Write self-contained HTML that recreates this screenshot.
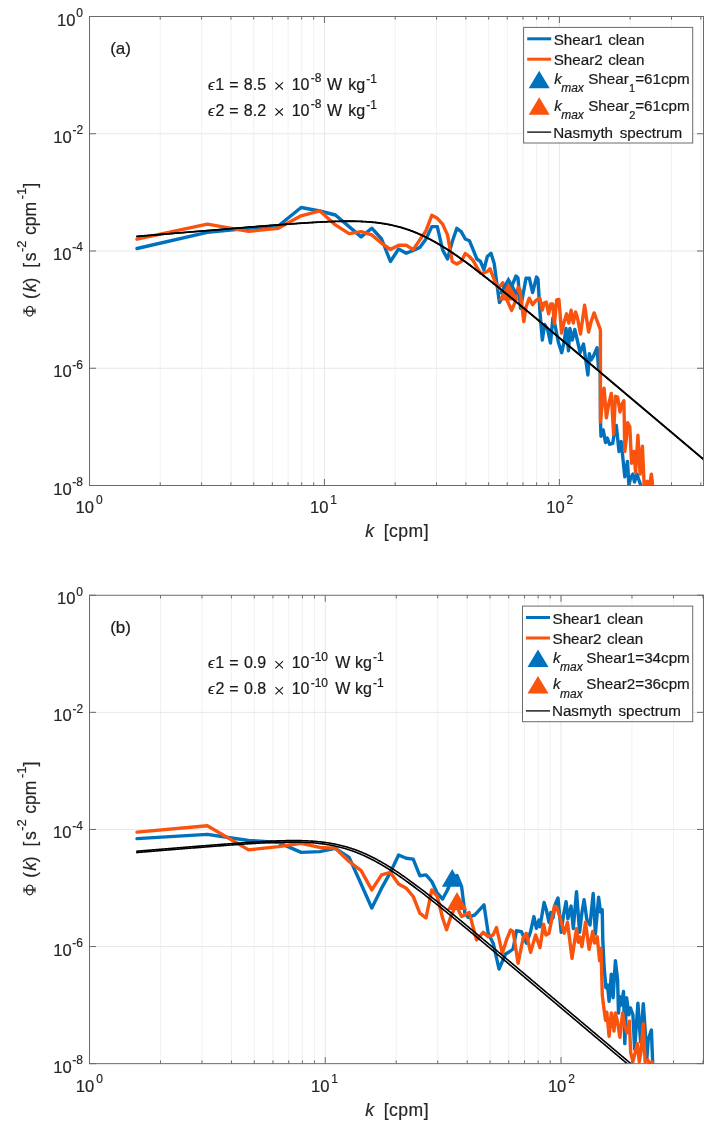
<!DOCTYPE html>
<html><head><meta charset="utf-8"><style>
html,body{margin:0;padding:0;background:#fff;}
svg{display:block;filter:blur(0.3px);}
text{font-family:"Liberation Sans",sans-serif;}
</style></head><body>
<svg width="722" height="1132" viewBox="0 0 722 1132">
<rect width="100%" height="100%" fill="#fff"/>
<clipPath id="c0"><rect x="89.5" y="16.5" width="614.0" height="469.0"/></clipPath>
<line x1="160.23" y1="16.5" x2="160.23" y2="485.5" stroke="#f2f2f2" stroke-width="1"/>
<line x1="201.60" y1="16.5" x2="201.60" y2="485.5" stroke="#f2f2f2" stroke-width="1"/>
<line x1="230.95" y1="16.5" x2="230.95" y2="485.5" stroke="#f2f2f2" stroke-width="1"/>
<line x1="253.72" y1="16.5" x2="253.72" y2="485.5" stroke="#f2f2f2" stroke-width="1"/>
<line x1="272.33" y1="16.5" x2="272.33" y2="485.5" stroke="#f2f2f2" stroke-width="1"/>
<line x1="288.06" y1="16.5" x2="288.06" y2="485.5" stroke="#f2f2f2" stroke-width="1"/>
<line x1="301.68" y1="16.5" x2="301.68" y2="485.5" stroke="#f2f2f2" stroke-width="1"/>
<line x1="313.70" y1="16.5" x2="313.70" y2="485.5" stroke="#f2f2f2" stroke-width="1"/>
<line x1="395.18" y1="16.5" x2="395.18" y2="485.5" stroke="#f2f2f2" stroke-width="1"/>
<line x1="436.55" y1="16.5" x2="436.55" y2="485.5" stroke="#f2f2f2" stroke-width="1"/>
<line x1="465.90" y1="16.5" x2="465.90" y2="485.5" stroke="#f2f2f2" stroke-width="1"/>
<line x1="488.67" y1="16.5" x2="488.67" y2="485.5" stroke="#f2f2f2" stroke-width="1"/>
<line x1="507.28" y1="16.5" x2="507.28" y2="485.5" stroke="#f2f2f2" stroke-width="1"/>
<line x1="523.01" y1="16.5" x2="523.01" y2="485.5" stroke="#f2f2f2" stroke-width="1"/>
<line x1="536.63" y1="16.5" x2="536.63" y2="485.5" stroke="#f2f2f2" stroke-width="1"/>
<line x1="548.65" y1="16.5" x2="548.65" y2="485.5" stroke="#f2f2f2" stroke-width="1"/>
<line x1="630.13" y1="16.5" x2="630.13" y2="485.5" stroke="#f2f2f2" stroke-width="1"/>
<line x1="671.50" y1="16.5" x2="671.50" y2="485.5" stroke="#f2f2f2" stroke-width="1"/>
<line x1="700.85" y1="16.5" x2="700.85" y2="485.5" stroke="#f2f2f2" stroke-width="1"/>
<line x1="324.45" y1="16.5" x2="324.45" y2="485.5" stroke="#e8e8e8" stroke-width="1"/>
<line x1="559.40" y1="16.5" x2="559.40" y2="485.5" stroke="#e8e8e8" stroke-width="1"/>
<line x1="89.5" y1="133.75" x2="703.5" y2="133.75" stroke="#e8e8e8" stroke-width="1"/>
<line x1="89.5" y1="251.00" x2="703.5" y2="251.00" stroke="#e8e8e8" stroke-width="1"/>
<line x1="89.5" y1="368.25" x2="703.5" y2="368.25" stroke="#e8e8e8" stroke-width="1"/>
<g clip-path="url(#c0)" fill="none" stroke-linejoin="round" stroke-linecap="round">
<path d="M137.0,248.5 L207.3,232.4 L248.6,228.2 L278.3,226.0 L301.1,207.5 L319.7,211.0 L335.4,215.0 L349.1,226.6 L361.1,236.9 L371.8,228.2 L381.6,239.0 L390.4,261.5 L398.6,249.0 L406.2,253.2 L413.2,250.5 L419.8,247.4 L426.0,239.0 L431.8,226.6 L437.3,226.6 L442.6,249.9 L447.5,259.0 L452.3,241.5 L456.8,228.3 L461.2,231.6 L465.3,239.0 L469.4,240.7 L473.2,249.9 L476.9,259.0 L480.5,261.5 L483.9,269.8 L487.3,256.5 L491.0,253.3 L494.2,263.5 L499.4,302.6 L505.0,293.0 L511.0,288.0 L516.0,276.0 L518.0,278.0 L520.5,308.2 L526.0,278.2 L529.3,278.2 L532.6,292.6 L536.5,277.1 L538.0,279.0 L539.8,310.0 L542.3,340.1 L544.7,324.5 L547.6,329.4 L550.5,343.0 L552.9,317.8 L555.0,325.0 L558.3,342.0 L561.7,352.7 L564.1,342.0 L566.0,328.4 L568.5,350.7 L569.9,328.4 L572.3,340.1 L574.8,329.4 L577.7,342.0 L580.1,352.7 L583.5,344.0 L586.4,364.3 L587.9,375.0 L589.3,353.6 L591.0,360.0 L593.2,356.6 L597.1,347.8 L598.5,368.2 L600.2,368.0 L600.5,421.8 L601.0,436.2 L603.2,429.9 L605.5,442.5 L607.3,438.0 L609.5,444.3 L612.7,443.4 L614.0,435.3 L616.3,425.4 L619.0,451.5 L621.2,441.6 L624.8,476.8 L627.5,461.4 L628.9,486.0 L630.5,478.0 L632.9,474.1 L634.5,482.0 L637.0,474.1 L638.5,479.0 L640.1,483.1 L641.0,487.0" stroke="#0072BD" stroke-width="3.4"/>
<path d="M137.0,239.2 L207.3,224.1 L248.6,231.3 L278.3,228.2 L301.1,215.8 L319.7,210.8 L335.4,224.9 L349.1,233.6 L361.1,231.6 L371.8,234.9 L381.6,243.2 L390.4,249.5 L398.6,245.2 L406.2,245.2 L413.2,249.6 L419.8,239.9 L426.0,230.7 L431.8,215.3 L437.3,218.3 L442.6,224.1 L447.5,234.9 L452.3,261.5 L456.8,264.0 L461.2,261.5 L465.3,253.5 L469.4,256.5 L473.2,260.7 L476.9,267.3 L480.5,273.1 L483.9,273.0 L487.3,271.5 L490.0,268.8 L495.0,281.6 L498.3,288.2 L502.7,282.7 L507.0,300.0 L511.6,310.4 L514.9,302.6 L518.2,287.1 L520.0,290.0 L523.8,321.5 L526.0,307.0 L529.3,298.2 L532.6,304.8 L536.0,300.4 L539.3,298.2 L540.0,298.5 L542.3,310.2 L544.1,303.0 L546.3,302.1 L548.6,313.8 L550.8,303.9 L552.6,303.9 L554.4,324.0 L556.7,299.9 L558.9,299.4 L561.6,333.0 L563.9,322.8 L566.6,313.8 L568.8,323.0 L571.1,310.2 L573.3,323.0 L575.6,312.0 L577.5,318.0 L580.5,334.0 L584.6,305.3 L588.6,332.0 L591.0,322.0 L594.1,312.9 L596.0,318.0 L599.5,327.3 L600.4,330.0 L600.5,422.0 L602.5,400.0 L604.1,388.1 L606.4,417.8 L608.5,405.0 L611.3,393.5 L613.6,434.0 L615.4,396.2 L617.6,397.1 L620.0,412.0 L621.5,405.0 L623.9,400.7 L624.8,451.5 L626.2,440.0 L627.5,422.7 L629.8,426.8 L631.6,463.2 L633.8,451.5 L635.6,472.3 L637.9,435.3 L640.1,474.1 L642.4,446.1 L644.2,486.0 L647.4,481.3 L649.5,486.0 L651.4,474.1 L652.8,487.0" stroke="#F9530E" stroke-width="3.4"/>
<path d="M508.4,276.6 L518.7,294.5 L498.1,294.5 Z" fill="#0072BD" stroke="none"/>
<path d="M508.4,282.5 L518.7,300.4 L498.1,300.4 Z" fill="#F9530E" stroke="none"/>
<path d="M136.83,236.33 L137.84,236.25 L138.86,236.16 L139.87,236.08 L140.89,236.00 L141.91,235.91 L142.92,235.83 L143.94,235.74 L144.95,235.66 L145.97,235.57 L146.98,235.49 L148.00,235.40 L149.01,235.32 L150.03,235.24 L151.05,235.15 L152.06,235.07 L153.08,234.98 L154.09,234.90 L155.11,234.81 L156.12,234.73 L157.14,234.65 L158.15,234.56 L159.17,234.48 L160.19,234.39 L161.20,234.31 L162.22,234.22 L163.23,234.14 L164.25,234.06 L165.26,233.97 L166.28,233.89 L167.29,233.80 L168.31,233.72 L169.33,233.63 L170.34,233.55 L171.36,233.46 L172.37,233.38 L173.39,233.30 L174.40,233.21 L175.42,233.13 L176.43,233.04 L177.45,232.96 L178.46,232.87 L179.48,232.79 L180.50,232.71 L181.51,232.62 L182.53,232.54 L183.54,232.45 L184.56,232.37 L185.57,232.29 L186.59,232.20 L187.60,232.12 L188.62,232.03 L189.64,231.95 L190.65,231.86 L191.67,231.78 L192.68,231.70 L193.70,231.61 L194.71,231.53 L195.73,231.44 L196.74,231.36 L197.76,231.28 L198.78,231.19 L199.79,231.11 L200.81,231.02 L201.82,230.94 L202.84,230.86 L203.85,230.77 L204.87,230.69 L205.88,230.60 L206.90,230.52 L207.91,230.44 L208.93,230.35 L209.95,230.27 L210.96,230.18 L211.98,230.10 L212.99,230.02 L214.01,229.93 L215.02,229.85 L216.04,229.77 L217.05,229.68 L218.07,229.60 L219.09,229.51 L220.10,229.43 L221.12,229.35 L222.13,229.26 L223.15,229.18 L224.16,229.10 L225.18,229.01 L226.19,228.93 L227.21,228.85 L228.23,228.76 L229.24,228.68 L230.26,228.60 L231.27,228.51 L232.29,228.43 L233.30,228.35 L234.32,228.26 L235.33,228.18 L236.35,228.10 L237.37,228.02 L238.38,227.93 L239.40,227.85 L240.41,227.77 L241.43,227.68 L242.44,227.60 L243.46,227.52 L244.47,227.44 L245.49,227.35 L246.50,227.27 L247.52,227.19 L248.54,227.11 L249.55,227.03 L250.57,226.94 L251.58,226.86 L252.60,226.78 L253.61,226.70 L254.63,226.62 L255.64,226.54 L256.66,226.46 L257.68,226.37 L258.69,226.29 L259.71,226.21 L260.72,226.13 L261.74,226.05 L262.75,225.97 L263.77,225.89 L264.78,225.81 L265.80,225.73 L266.82,225.65 L267.83,225.57 L268.85,225.49 L269.86,225.41 L270.88,225.33 L271.89,225.25 L272.91,225.18 L273.92,225.10 L274.94,225.02 L275.95,224.94 L276.97,224.86 L277.99,224.79 L279.00,224.71 L280.02,224.63 L281.03,224.55 L282.05,224.48 L283.06,224.40 L284.08,224.33 L285.09,224.25 L286.11,224.17 L287.13,224.10 L288.14,224.03 L289.16,223.95 L290.17,223.88 L291.19,223.80 L292.20,223.73 L293.22,223.66 L294.23,223.59 L295.25,223.52 L296.27,223.44 L297.28,223.37 L298.30,223.30 L299.31,223.23 L300.33,223.16 L301.34,223.10 L302.36,223.03 L303.37,222.96 L304.39,222.89 L305.41,222.83 L306.42,222.76 L307.44,222.70 L308.45,222.64 L309.47,222.57 L310.48,222.51 L311.50,222.45 L312.51,222.39 L313.53,222.33 L314.54,222.27 L315.56,222.21 L316.58,222.15 L317.59,222.10 L318.61,222.04 L319.62,221.99 L320.64,221.94 L321.65,221.89 L322.67,221.84 L323.68,221.79 L324.70,221.74 L325.72,221.69 L326.73,221.65 L327.75,221.60 L328.76,221.56 L329.78,221.52 L330.79,221.48 L331.81,221.44 L332.82,221.41 L333.84,221.37 L334.86,221.34 L335.87,221.31 L336.89,221.28 L337.90,221.26 L338.92,221.23 L339.93,221.21 L340.95,221.19 L341.96,221.17 L342.98,221.15 L343.99,221.14 L345.01,221.13 L346.03,221.12 L347.04,221.12 L348.06,221.11 L349.07,221.11 L350.09,221.12 L351.10,221.12 L352.12,221.13 L353.13,221.14 L354.15,221.16 L355.17,221.18 L356.18,221.20 L357.20,221.22 L358.21,221.25 L359.23,221.28 L360.24,221.32 L361.26,221.36 L362.27,221.41 L363.29,221.46 L364.31,221.51 L365.32,221.57 L366.34,221.63 L367.35,221.69 L368.37,221.77 L369.38,221.84 L370.40,221.92 L371.41,222.01 L372.43,222.10 L373.45,222.20 L374.46,222.30 L375.48,222.41 L376.49,222.52 L377.51,222.64 L378.52,222.77 L379.54,222.90 L380.55,223.04 L381.57,223.18 L382.58,223.33 L383.60,223.49 L384.62,223.65 L385.63,223.82 L386.65,224.00 L387.66,224.19 L388.68,224.38 L389.69,224.58 L390.71,224.78 L391.72,225.00 L392.74,225.22 L393.76,225.45 L394.77,225.69 L395.79,225.93 L396.80,226.18 L397.82,226.45 L398.83,226.71 L399.85,226.99 L400.86,227.28 L401.88,227.57 L402.90,227.87 L403.91,228.18 L404.93,228.50 L405.94,228.83 L406.96,229.17 L407.97,229.51 L408.99,229.87 L410.00,230.23 L411.02,230.60 L412.04,230.98 L413.05,231.37 L414.07,231.76 L415.08,232.17 L416.10,232.58 L417.11,233.01 L418.13,233.44 L419.14,233.88 L420.16,234.33 L421.17,234.79 L422.19,235.25 L423.21,235.73 L424.22,236.21 L425.24,236.70 L426.25,237.20 L427.27,237.71 L428.28,238.22 L429.30,238.74 L430.31,239.28 L431.33,239.81 L432.35,240.36 L433.36,240.92 L434.38,241.48 L435.39,242.05 L436.41,242.62 L437.42,243.21 L438.44,243.80 L439.45,244.40 L440.47,245.00 L441.49,245.61 L442.50,246.23 L443.52,246.86 L444.53,247.49 L445.55,248.13 L446.56,248.77 L447.58,249.42 L448.59,250.08 L449.61,250.74 L450.62,251.40 L451.64,252.08 L452.66,252.75 L453.67,253.44 L454.69,254.13 L455.70,254.82 L456.72,255.52 L457.73,256.22 L458.75,256.93 L459.76,257.64 L460.78,258.36 L461.80,259.08 L462.81,259.81 L463.83,260.54 L464.84,261.27 L465.86,262.01 L466.87,262.75 L467.89,263.49 L468.90,264.24 L469.92,264.99 L470.94,265.75 L471.95,266.51 L472.97,267.27 L473.98,268.04 L475.00,268.80 L476.01,269.57 L477.03,270.35 L478.04,271.13 L479.06,271.90 L480.08,272.69 L481.09,273.47 L482.11,274.26 L483.12,275.05 L484.14,275.84 L485.15,276.63 L486.17,277.43 L487.18,278.23 L488.20,279.03 L489.21,279.83 L490.23,280.63 L491.25,281.44 L492.26,282.24 L493.28,283.05 L494.29,283.86 L495.31,284.68 L496.32,285.49 L497.34,286.30 L498.35,287.12 L499.37,287.94 L500.39,288.76 L501.40,289.58 L502.42,290.40 L503.43,291.22 L504.45,292.05 L505.46,292.87 L506.48,293.70 L507.49,294.53 L508.51,295.36 L509.53,296.19 L510.54,297.02 L511.56,297.85 L512.57,298.68 L513.59,299.52 L514.60,300.35 L515.62,301.18 L516.63,302.02 L517.65,302.86 L518.66,303.69 L519.68,304.53 L520.70,305.37 L521.71,306.21 L522.73,307.05 L523.74,307.89 L524.76,308.73 L525.77,309.57 L526.79,310.41 L527.80,311.26 L528.82,312.10 L529.84,312.94 L530.85,313.79 L531.87,314.63 L532.88,315.48 L533.90,316.32 L534.91,317.17 L535.93,318.01 L536.94,318.86 L537.96,319.71 L538.98,320.56 L539.99,321.40 L541.01,322.25 L542.02,323.10 L543.04,323.95 L544.05,324.80 L545.07,325.65 L546.08,326.50 L547.10,327.34 L548.12,328.19 L549.13,329.04 L550.15,329.90 L551.16,330.75 L552.18,331.60 L553.19,332.45 L554.21,333.30 L555.22,334.15 L556.24,335.00 L557.25,335.85 L558.27,336.71 L559.29,337.56 L560.30,338.41 L561.32,339.26 L562.33,340.12 L563.35,340.97 L564.36,341.82 L565.38,342.67 L566.39,343.53 L567.41,344.38 L568.43,345.23 L569.44,346.09 L570.46,346.94 L571.47,347.80 L572.49,348.65 L573.50,349.50 L574.52,350.36 L575.53,351.21 L576.55,352.07 L577.57,352.92 L578.58,353.78 L579.60,354.63 L580.61,355.48 L581.63,356.34 L582.64,357.19 L583.66,358.05 L584.67,358.90 L585.69,359.76 L586.70,360.61 L587.72,361.47 L588.74,362.32 L589.75,363.18 L590.77,364.03 L591.78,364.89 L592.80,365.74 L593.81,366.60 L594.83,367.46 L595.84,368.31 L596.86,369.17 L597.88,370.02 L598.89,370.88 L599.91,371.73 L600.92,372.59 L601.94,373.45 L602.95,374.30 L603.97,375.16 L604.98,376.01 L606.00,376.87 L607.02,377.72 L608.03,378.58 L609.05,379.44 L610.06,380.29 L611.08,381.15 L612.09,382.00 L613.11,382.86 L614.12,383.72 L615.14,384.57 L616.16,385.43 L617.17,386.29 L618.19,387.14 L619.20,388.00 L620.22,388.85 L621.23,389.71 L622.25,390.57 L623.26,391.42 L624.28,392.28 L625.29,393.14 L626.31,393.99 L627.33,394.85 L628.34,395.70 L629.36,396.56 L630.37,397.42 L631.39,398.27 L632.40,399.13 L633.42,399.99 L634.43,400.84 L635.45,401.70 L636.47,402.56 L637.48,403.41 L638.50,404.27 L639.51,405.12 L640.53,405.98 L641.54,406.84 L642.56,407.69 L643.57,408.55 L644.59,409.41 L645.61,410.26 L646.62,411.12 L647.64,411.98 L648.65,412.83 L649.67,413.69 L650.68,414.55 L651.70,415.40 L652.71,416.26 L653.73,417.12 L654.74,417.97 L655.76,418.83 L656.78,419.69 L657.79,420.54 L658.81,421.40 L659.82,422.26 L660.84,423.11 L661.85,423.97 L662.87,424.83 L663.88,425.68 L664.90,426.54 L665.92,427.40 L666.93,428.25 L667.95,429.11 L668.96,429.96 L669.98,430.82 L670.99,431.68 L672.01,432.53 L673.02,433.39 L674.04,434.25 L675.06,435.10 L676.07,435.96 L677.09,436.82 L678.10,437.67 L679.12,438.53 L680.13,439.39 L681.15,440.24 L682.16,441.10 L683.18,441.96 L684.20,442.81 L685.21,443.67 L686.23,444.53 L687.24,445.38 L688.26,446.24 L689.27,447.10 L690.29,447.95 L691.30,448.81 L692.32,449.67 L693.33,450.52 L694.35,451.38 L695.37,452.24 L696.38,453.09 L697.40,453.95 L698.41,454.81 L699.43,455.66 L700.44,456.52 L701.46,457.38 L702.47,458.23 L703.49,459.09 L704.51,459.95 L705.52,460.81 L706.54,461.66 L707.55,462.52" stroke="#000" stroke-width="1.6"/>
<path d="M136.83,236.53 L137.84,236.44 L138.86,236.36 L139.87,236.28 L140.89,236.19 L141.91,236.11 L142.92,236.02 L143.94,235.94 L144.95,235.85 L145.97,235.77 L146.98,235.68 L148.00,235.60 L149.01,235.52 L150.03,235.43 L151.05,235.35 L152.06,235.26 L153.08,235.18 L154.09,235.09 L155.11,235.01 L156.12,234.93 L157.14,234.84 L158.15,234.76 L159.17,234.67 L160.19,234.59 L161.20,234.50 L162.22,234.42 L163.23,234.33 L164.25,234.25 L165.26,234.17 L166.28,234.08 L167.29,234.00 L168.31,233.91 L169.33,233.83 L170.34,233.74 L171.36,233.66 L172.37,233.58 L173.39,233.49 L174.40,233.41 L175.42,233.32 L176.43,233.24 L177.45,233.15 L178.46,233.07 L179.48,232.99 L180.50,232.90 L181.51,232.82 L182.53,232.73 L183.54,232.65 L184.56,232.56 L185.57,232.48 L186.59,232.40 L187.60,232.31 L188.62,232.23 L189.64,232.14 L190.65,232.06 L191.67,231.98 L192.68,231.89 L193.70,231.81 L194.71,231.72 L195.73,231.64 L196.74,231.56 L197.76,231.47 L198.78,231.39 L199.79,231.30 L200.81,231.22 L201.82,231.14 L202.84,231.05 L203.85,230.97 L204.87,230.88 L205.88,230.80 L206.90,230.72 L207.91,230.63 L208.93,230.55 L209.95,230.46 L210.96,230.38 L211.98,230.30 L212.99,230.21 L214.01,230.13 L215.02,230.04 L216.04,229.96 L217.05,229.88 L218.07,229.79 L219.09,229.71 L220.10,229.63 L221.12,229.54 L222.13,229.46 L223.15,229.38 L224.16,229.29 L225.18,229.21 L226.19,229.13 L227.21,229.04 L228.23,228.96 L229.24,228.88 L230.26,228.79 L231.27,228.71 L232.29,228.63 L233.30,228.54 L234.32,228.46 L235.33,228.38 L236.35,228.29 L237.37,228.21 L238.38,228.13 L239.40,228.05 L240.41,227.96 L241.43,227.88 L242.44,227.80 L243.46,227.72 L244.47,227.63 L245.49,227.55 L246.50,227.47 L247.52,227.39 L248.54,227.30 L249.55,227.22 L250.57,227.14 L251.58,227.06 L252.60,226.98 L253.61,226.90 L254.63,226.81 L255.64,226.73 L256.66,226.65 L257.68,226.57 L258.69,226.49 L259.71,226.41 L260.72,226.33 L261.74,226.25 L262.75,226.17 L263.77,226.09 L264.78,226.01 L265.80,225.93 L266.82,225.85 L267.83,225.77 L268.85,225.69 L269.86,225.61 L270.88,225.53 L271.89,225.45 L272.91,225.37 L273.92,225.29 L274.94,225.22 L275.95,225.14 L276.97,225.06 L277.99,224.98 L279.00,224.91 L280.02,224.83 L281.03,224.75 L282.05,224.68 L283.06,224.60 L284.08,224.52 L285.09,224.45 L286.11,224.37 L287.13,224.30 L288.14,224.22 L289.16,224.15 L290.17,224.08 L291.19,224.00 L292.20,223.93 L293.22,223.86 L294.23,223.79 L295.25,223.71 L296.27,223.64 L297.28,223.57 L298.30,223.50 L299.31,223.43 L300.33,223.36 L301.34,223.30 L302.36,223.23 L303.37,223.16 L304.39,223.10 L305.41,223.03 L306.42,222.96 L307.44,222.90 L308.45,222.84 L309.47,222.77 L310.48,222.71 L311.50,222.65 L312.51,222.59 L313.53,222.53 L314.54,222.47 L315.56,222.41 L316.58,222.36 L317.59,222.30 L318.61,222.25 L319.62,222.19 L320.64,222.14 L321.65,222.09 L322.67,222.04 L323.68,221.99 L324.70,221.94 L325.72,221.90 L326.73,221.85 L327.75,221.81 L328.76,221.77 L329.78,221.73 L330.79,221.69 L331.81,221.65 L332.82,221.62 L333.84,221.58 L334.86,221.55 L335.87,221.52 L336.89,221.49 L337.90,221.47 L338.92,221.44 L339.93,221.42 L340.95,221.40 L341.96,221.39 L342.98,221.37 L343.99,221.36 L345.01,221.35 L346.03,221.34 L347.04,221.33 L348.06,221.33 L349.07,221.33 L350.09,221.34 L351.10,221.34 L352.12,221.35 L353.13,221.37 L354.15,221.38 L355.17,221.40 L356.18,221.42 L357.20,221.45 L358.21,221.48 L359.23,221.51 L360.24,221.55 L361.26,221.59 L362.27,221.64 L363.29,221.69 L364.31,221.74 L365.32,221.80 L366.34,221.87 L367.35,221.93 L368.37,222.01 L369.38,222.09 L370.40,222.17 L371.41,222.26 L372.43,222.35 L373.45,222.45 L374.46,222.55 L375.48,222.66 L376.49,222.78 L377.51,222.90 L378.52,223.03 L379.54,223.16 L380.55,223.30 L381.57,223.44 L382.58,223.60 L383.60,223.76 L384.62,223.92 L385.63,224.09 L386.65,224.27 L387.66,224.46 L388.68,224.66 L389.69,224.86 L390.71,225.07 L391.72,225.28 L392.74,225.51 L393.76,225.74 L394.77,225.98 L395.79,226.22 L396.80,226.48 L397.82,226.74 L398.83,227.01 L399.85,227.29 L400.86,227.58 L401.88,227.88 L402.90,228.18 L403.91,228.50 L404.93,228.82 L405.94,229.15 L406.96,229.49 L407.97,229.83 L408.99,230.19 L410.00,230.55 L411.02,230.93 L412.04,231.31 L413.05,231.70 L414.07,232.10 L415.08,232.51 L416.10,232.93 L417.11,233.35 L418.13,233.79 L419.14,234.23 L420.16,234.68 L421.17,235.14 L422.19,235.61 L423.21,236.08 L424.22,236.57 L425.24,237.06 L426.25,237.56 L427.27,238.07 L428.28,238.59 L429.30,239.12 L430.31,239.65 L431.33,240.19 L432.35,240.74 L433.36,241.30 L434.38,241.86 L435.39,242.43 L436.41,243.01 L437.42,243.60 L438.44,244.19 L439.45,244.79 L440.47,245.40 L441.49,246.01 L442.50,246.63 L443.52,247.26 L444.53,247.89 L445.55,248.53 L446.56,249.18 L447.58,249.83 L448.59,250.49 L449.61,251.15 L450.62,251.82 L451.64,252.49 L452.66,253.17 L453.67,253.86 L454.69,254.55 L455.70,255.24 L456.72,255.94 L457.73,256.65 L458.75,257.35 L459.76,258.07 L460.78,258.79 L461.80,259.51 L462.81,260.24 L463.83,260.97 L464.84,261.70 L465.86,262.44 L466.87,263.18 L467.89,263.93 L468.90,264.68 L469.92,265.43 L470.94,266.19 L471.95,266.95 L472.97,267.71 L473.98,268.48 L475.00,269.25 L476.01,270.02 L477.03,270.79 L478.04,271.57 L479.06,272.35 L480.08,273.13 L481.09,273.92 L482.11,274.71 L483.12,275.50 L484.14,276.29 L485.15,277.08 L486.17,277.88 L487.18,278.68 L488.20,279.48 L489.21,280.28 L490.23,281.08 L491.25,281.89 L492.26,282.70 L493.28,283.51 L494.29,284.32 L495.31,285.13 L496.32,285.94 L497.34,286.76 L498.35,287.58 L499.37,288.40 L500.39,289.22 L501.40,290.04 L502.42,290.86 L503.43,291.68 L504.45,292.51 L505.46,293.33 L506.48,294.16 L507.49,294.99 L508.51,295.82 L509.53,296.65 L510.54,297.48 L511.56,298.31 L512.57,299.14 L513.59,299.98 L514.60,300.81 L515.62,301.65 L516.63,302.48 L517.65,303.32 L518.66,304.16 L519.68,304.99 L520.70,305.83 L521.71,306.67 L522.73,307.51 L523.74,308.35 L524.76,309.19 L525.77,310.04 L526.79,310.88 L527.80,311.72 L528.82,312.56 L529.84,313.41 L530.85,314.25 L531.87,315.10 L532.88,315.94 L533.90,316.79 L534.91,317.63 L535.93,318.48 L536.94,319.33 L537.96,320.17 L538.98,321.02 L539.99,321.87 L541.01,322.72 L542.02,323.56 L543.04,324.41 L544.05,325.26 L545.07,326.11 L546.08,326.96 L547.10,327.81 L548.12,328.66 L549.13,329.51 L550.15,330.36 L551.16,331.21 L552.18,332.06 L553.19,332.91 L554.21,333.77 L555.22,334.62 L556.24,335.47 L557.25,336.32 L558.27,337.17 L559.29,338.02 L560.30,338.88 L561.32,339.73 L562.33,340.58 L563.35,341.44 L564.36,342.29 L565.38,343.14 L566.39,343.99 L567.41,344.85 L568.43,345.70 L569.44,346.55 L570.46,347.41 L571.47,348.26 L572.49,349.12 L573.50,349.97 L574.52,350.82 L575.53,351.68 L576.55,352.53 L577.57,353.39 L578.58,354.24 L579.60,355.10 L580.61,355.95 L581.63,356.81 L582.64,357.66 L583.66,358.52 L584.67,359.37 L585.69,360.23 L586.70,361.08 L587.72,361.94 L588.74,362.79 L589.75,363.65 L590.77,364.50 L591.78,365.36 L592.80,366.21 L593.81,367.07 L594.83,367.92 L595.84,368.78 L596.86,369.63 L597.88,370.49 L598.89,371.35 L599.91,372.20 L600.92,373.06 L601.94,373.91 L602.95,374.77 L603.97,375.62 L604.98,376.48 L606.00,377.34 L607.02,378.19 L608.03,379.05 L609.05,379.90 L610.06,380.76 L611.08,381.62 L612.09,382.47 L613.11,383.33 L614.12,384.18 L615.14,385.04 L616.16,385.90 L617.17,386.75 L618.19,387.61 L619.20,388.46 L620.22,389.32 L621.23,390.18 L622.25,391.03 L623.26,391.89 L624.28,392.75 L625.29,393.60 L626.31,394.46 L627.33,395.32 L628.34,396.17 L629.36,397.03 L630.37,397.88 L631.39,398.74 L632.40,399.60 L633.42,400.45 L634.43,401.31 L635.45,402.17 L636.47,403.02 L637.48,403.88 L638.50,404.74 L639.51,405.59 L640.53,406.45 L641.54,407.31 L642.56,408.16 L643.57,409.02 L644.59,409.87 L645.61,410.73 L646.62,411.59 L647.64,412.44 L648.65,413.30 L649.67,414.16 L650.68,415.01 L651.70,415.87 L652.71,416.73 L653.73,417.58 L654.74,418.44 L655.76,419.30 L656.78,420.15 L657.79,421.01 L658.81,421.87 L659.82,422.72 L660.84,423.58 L661.85,424.44 L662.87,425.29 L663.88,426.15 L664.90,427.01 L665.92,427.86 L666.93,428.72 L667.95,429.58 L668.96,430.43 L669.98,431.29 L670.99,432.15 L672.01,433.00 L673.02,433.86 L674.04,434.72 L675.06,435.57 L676.07,436.43 L677.09,437.29 L678.10,438.14 L679.12,439.00 L680.13,439.86 L681.15,440.71 L682.16,441.57 L683.18,442.43 L684.20,443.28 L685.21,444.14 L686.23,445.00 L687.24,445.85 L688.26,446.71 L689.27,447.57 L690.29,448.42 L691.30,449.28 L692.32,450.14 L693.33,450.99 L694.35,451.85 L695.37,452.71 L696.38,453.56 L697.40,454.42 L698.41,455.28 L699.43,456.13 L700.44,456.99 L701.46,457.85 L702.47,458.70 L703.49,459.56 L704.51,460.42 L705.52,461.27 L706.54,462.13 L707.55,462.99" stroke="#000" stroke-width="1.6"/>
</g>
<rect x="89.5" y="16.5" width="614.0" height="469.0" fill="none" stroke="#6b6b6b" stroke-width="1"/>
<line x1="89.50" y1="485.5" x2="89.50" y2="479.0" stroke="#6b6b6b" stroke-width="1"/>
<line x1="89.50" y1="16.5" x2="89.50" y2="23.0" stroke="#6b6b6b" stroke-width="1"/>
<line x1="160.23" y1="485.5" x2="160.23" y2="482.3" stroke="#6b6b6b" stroke-width="1"/>
<line x1="160.23" y1="16.5" x2="160.23" y2="19.7" stroke="#6b6b6b" stroke-width="1"/>
<line x1="201.60" y1="485.5" x2="201.60" y2="482.3" stroke="#6b6b6b" stroke-width="1"/>
<line x1="201.60" y1="16.5" x2="201.60" y2="19.7" stroke="#6b6b6b" stroke-width="1"/>
<line x1="230.95" y1="485.5" x2="230.95" y2="482.3" stroke="#6b6b6b" stroke-width="1"/>
<line x1="230.95" y1="16.5" x2="230.95" y2="19.7" stroke="#6b6b6b" stroke-width="1"/>
<line x1="253.72" y1="485.5" x2="253.72" y2="482.3" stroke="#6b6b6b" stroke-width="1"/>
<line x1="253.72" y1="16.5" x2="253.72" y2="19.7" stroke="#6b6b6b" stroke-width="1"/>
<line x1="272.33" y1="485.5" x2="272.33" y2="482.3" stroke="#6b6b6b" stroke-width="1"/>
<line x1="272.33" y1="16.5" x2="272.33" y2="19.7" stroke="#6b6b6b" stroke-width="1"/>
<line x1="288.06" y1="485.5" x2="288.06" y2="482.3" stroke="#6b6b6b" stroke-width="1"/>
<line x1="288.06" y1="16.5" x2="288.06" y2="19.7" stroke="#6b6b6b" stroke-width="1"/>
<line x1="301.68" y1="485.5" x2="301.68" y2="482.3" stroke="#6b6b6b" stroke-width="1"/>
<line x1="301.68" y1="16.5" x2="301.68" y2="19.7" stroke="#6b6b6b" stroke-width="1"/>
<line x1="313.70" y1="485.5" x2="313.70" y2="482.3" stroke="#6b6b6b" stroke-width="1"/>
<line x1="313.70" y1="16.5" x2="313.70" y2="19.7" stroke="#6b6b6b" stroke-width="1"/>
<line x1="324.45" y1="485.5" x2="324.45" y2="479.0" stroke="#6b6b6b" stroke-width="1"/>
<line x1="324.45" y1="16.5" x2="324.45" y2="23.0" stroke="#6b6b6b" stroke-width="1"/>
<line x1="395.18" y1="485.5" x2="395.18" y2="482.3" stroke="#6b6b6b" stroke-width="1"/>
<line x1="395.18" y1="16.5" x2="395.18" y2="19.7" stroke="#6b6b6b" stroke-width="1"/>
<line x1="436.55" y1="485.5" x2="436.55" y2="482.3" stroke="#6b6b6b" stroke-width="1"/>
<line x1="436.55" y1="16.5" x2="436.55" y2="19.7" stroke="#6b6b6b" stroke-width="1"/>
<line x1="465.90" y1="485.5" x2="465.90" y2="482.3" stroke="#6b6b6b" stroke-width="1"/>
<line x1="465.90" y1="16.5" x2="465.90" y2="19.7" stroke="#6b6b6b" stroke-width="1"/>
<line x1="488.67" y1="485.5" x2="488.67" y2="482.3" stroke="#6b6b6b" stroke-width="1"/>
<line x1="488.67" y1="16.5" x2="488.67" y2="19.7" stroke="#6b6b6b" stroke-width="1"/>
<line x1="507.28" y1="485.5" x2="507.28" y2="482.3" stroke="#6b6b6b" stroke-width="1"/>
<line x1="507.28" y1="16.5" x2="507.28" y2="19.7" stroke="#6b6b6b" stroke-width="1"/>
<line x1="523.01" y1="485.5" x2="523.01" y2="482.3" stroke="#6b6b6b" stroke-width="1"/>
<line x1="523.01" y1="16.5" x2="523.01" y2="19.7" stroke="#6b6b6b" stroke-width="1"/>
<line x1="536.63" y1="485.5" x2="536.63" y2="482.3" stroke="#6b6b6b" stroke-width="1"/>
<line x1="536.63" y1="16.5" x2="536.63" y2="19.7" stroke="#6b6b6b" stroke-width="1"/>
<line x1="548.65" y1="485.5" x2="548.65" y2="482.3" stroke="#6b6b6b" stroke-width="1"/>
<line x1="548.65" y1="16.5" x2="548.65" y2="19.7" stroke="#6b6b6b" stroke-width="1"/>
<line x1="559.40" y1="485.5" x2="559.40" y2="479.0" stroke="#6b6b6b" stroke-width="1"/>
<line x1="559.40" y1="16.5" x2="559.40" y2="23.0" stroke="#6b6b6b" stroke-width="1"/>
<line x1="630.13" y1="485.5" x2="630.13" y2="482.3" stroke="#6b6b6b" stroke-width="1"/>
<line x1="630.13" y1="16.5" x2="630.13" y2="19.7" stroke="#6b6b6b" stroke-width="1"/>
<line x1="671.50" y1="485.5" x2="671.50" y2="482.3" stroke="#6b6b6b" stroke-width="1"/>
<line x1="671.50" y1="16.5" x2="671.50" y2="19.7" stroke="#6b6b6b" stroke-width="1"/>
<line x1="700.85" y1="485.5" x2="700.85" y2="482.3" stroke="#6b6b6b" stroke-width="1"/>
<line x1="700.85" y1="16.5" x2="700.85" y2="19.7" stroke="#6b6b6b" stroke-width="1"/>
<line x1="89.5" y1="16.50" x2="96.0" y2="16.50" stroke="#6b6b6b" stroke-width="1"/>
<line x1="703.5" y1="16.50" x2="697.0" y2="16.50" stroke="#6b6b6b" stroke-width="1"/>
<line x1="89.5" y1="133.75" x2="96.0" y2="133.75" stroke="#6b6b6b" stroke-width="1"/>
<line x1="703.5" y1="133.75" x2="697.0" y2="133.75" stroke="#6b6b6b" stroke-width="1"/>
<line x1="89.5" y1="251.00" x2="96.0" y2="251.00" stroke="#6b6b6b" stroke-width="1"/>
<line x1="703.5" y1="251.00" x2="697.0" y2="251.00" stroke="#6b6b6b" stroke-width="1"/>
<line x1="89.5" y1="368.25" x2="96.0" y2="368.25" stroke="#6b6b6b" stroke-width="1"/>
<line x1="703.5" y1="368.25" x2="697.0" y2="368.25" stroke="#6b6b6b" stroke-width="1"/>
<line x1="89.5" y1="485.50" x2="96.0" y2="485.50" stroke="#6b6b6b" stroke-width="1"/>
<line x1="703.5" y1="485.50" x2="697.0" y2="485.50" stroke="#6b6b6b" stroke-width="1"/>
<text x="75.54" y="512.60" font-family="Liberation Sans" font-size="16.6" fill="#262626" stroke="#262626" stroke-width="0.2">10</text>
<text x="96.09" y="503.60" font-family="Liberation Sans" font-size="12" fill="#262626" stroke="#262626" stroke-width="0.2">0</text>
<text x="310.07" y="512.60" font-family="Liberation Sans" font-size="16.6" fill="#262626" stroke="#262626" stroke-width="0.2">10</text>
<text x="330.17" y="503.60" font-family="Liberation Sans" font-size="12" fill="#262626" stroke="#262626" stroke-width="0.2">1</text>
<text x="546.18" y="512.60" font-family="Liberation Sans" font-size="16.6" fill="#262626" stroke="#262626" stroke-width="0.2">10</text>
<text x="566.59" y="503.60" font-family="Liberation Sans" font-size="12" fill="#262626" stroke="#262626" stroke-width="0.2">2</text>
<text x="76.29" y="16.90" font-family="Liberation Sans" font-size="12" fill="#262626" stroke="#262626" stroke-width="0.2">0</text>
<text x="57.05" y="25.50" font-family="Liberation Sans" font-size="16.6" fill="#262626" stroke="#262626" stroke-width="0.2">10</text>
<text x="72.43" y="134.15" font-family="Liberation Sans" font-size="12" fill="#262626" stroke="#262626" stroke-width="0.2">-2</text>
<text x="53.25" y="142.75" font-family="Liberation Sans" font-size="16.6" fill="#262626" stroke="#262626" stroke-width="0.2">10</text>
<text x="72.18" y="251.40" font-family="Liberation Sans" font-size="12" fill="#262626" stroke="#262626" stroke-width="0.2">-4</text>
<text x="53.00" y="260.00" font-family="Liberation Sans" font-size="16.6" fill="#262626" stroke="#262626" stroke-width="0.2">10</text>
<text x="72.36" y="368.65" font-family="Liberation Sans" font-size="12" fill="#262626" stroke="#262626" stroke-width="0.2">-6</text>
<text x="53.17" y="377.25" font-family="Liberation Sans" font-size="16.6" fill="#262626" stroke="#262626" stroke-width="0.2">10</text>
<text x="72.35" y="485.90" font-family="Liberation Sans" font-size="12" fill="#262626" stroke="#262626" stroke-width="0.2">-8</text>
<text x="53.17" y="494.50" font-family="Liberation Sans" font-size="16.6" fill="#262626" stroke="#262626" stroke-width="0.2">10</text>
<text x="365.21" y="536.60" font-family="Liberation Sans" font-size="17.6" font-style="italic" fill="#262626" stroke="#262626" stroke-width="0.2">k</text>
<text x="383.65" y="536.60" font-family="Liberation Sans" font-size="17.6" letter-spacing="0.5" fill="#262626" stroke="#262626" stroke-width="0.2">[cpm]</text>
<g transform="translate(35.6,0) rotate(-90)">
<text x="-298.89" y="0.00" font-family="Liberation Sans" font-size="17.6" fill="#262626" stroke="#262626" stroke-width="0.2">(</text>
<text x="-291.89" y="0.00" font-family="Liberation Sans" font-size="17.6" font-style="italic" fill="#262626" stroke="#262626" stroke-width="0.2">k</text>
<text x="-283.47" y="0.00" font-family="Liberation Sans" font-size="17.6" fill="#262626" stroke="#262626" stroke-width="0.2">)</text>
<text x="-267.75" y="0.00" font-family="Liberation Sans" font-size="17.6" fill="#262626" stroke="#262626" stroke-width="0.2">[</text>
<text x="-261.29" y="0.00" font-family="Liberation Sans" font-size="17.6" fill="#262626" stroke="#262626" stroke-width="0.2">s</text>
<text x="-251.98" y="-9.30" font-family="Liberation Sans" font-size="13" fill="#262626" stroke="#262626" stroke-width="0.2">-2</text>
<text x="-235.05" y="0.00" font-family="Liberation Sans" font-size="17.6" fill="#262626" stroke="#262626" stroke-width="0.2">cpm</text>
<text x="-199.28" y="-9.30" font-family="Liberation Sans" font-size="13" fill="#262626" stroke="#262626" stroke-width="0.2">-1</text>
<text x="-187.64" y="0.00" font-family="Liberation Sans" font-size="17.6" fill="#262626" stroke="#262626" stroke-width="0.2">]</text>
</g>
<g fill="none" stroke="#262626"><ellipse cx="29.75" cy="311.20" rx="3.3" ry="4.9" stroke-width="1.35"/><line x1="23.6" y1="311.20" x2="35.4" y2="311.20" stroke-width="1.5"/><line x1="24.0" y1="308.60" x2="24.0" y2="313.80" stroke-width="1.0"/><line x1="35.0" y1="308.60" x2="35.0" y2="313.80" stroke-width="1.0"/></g>
<rect x="523.6" y="27.4" width="169.1" height="115.6" fill="#fff" stroke="#6b6b6b" stroke-width="1"/>
<line x1="527.2" y1="38.8" x2="551.2" y2="38.8" stroke="#0072BD" stroke-width="3"/>
<line x1="527.2" y1="59.2" x2="551.2" y2="59.2" stroke="#F9530E" stroke-width="3"/>
<path d="M539.2,70.8 L549.7,88.3 L528.7,88.3 Z" fill="#0072BD"/>
<path d="M539.2,97.3 L549.7,114.8 L528.7,114.8 Z" fill="#F9530E"/>
<line x1="527.2" y1="132.1" x2="551.2" y2="132.1" stroke="#000" stroke-width="1.3"/>
<text x="553.71" y="44.80" font-family="Liberation Sans" font-size="15.2" fill="#1a1a1a" stroke="#1a1a1a" stroke-width="0.2">Shear1</text>
<text x="608.15" y="44.80" font-family="Liberation Sans" font-size="15.2" fill="#1a1a1a" stroke="#1a1a1a" stroke-width="0.2">clean</text>
<text x="553.71" y="65.20" font-family="Liberation Sans" font-size="15.2" fill="#1a1a1a" stroke="#1a1a1a" stroke-width="0.2">Shear2</text>
<text x="608.15" y="65.20" font-family="Liberation Sans" font-size="15.2" fill="#1a1a1a" stroke="#1a1a1a" stroke-width="0.2">clean</text>
<text x="554.15" y="84.10" font-family="Liberation Sans" font-size="15.2" font-style="italic" fill="#1a1a1a" stroke="#1a1a1a" stroke-width="0.2">k</text>
<text x="561.20" y="92.40" font-family="Liberation Sans" font-size="12" font-style="italic" fill="#1a1a1a" stroke="#1a1a1a" stroke-width="0.2">max</text>
<text x="588.21" y="84.10" font-family="Liberation Sans" font-size="15.2" fill="#1a1a1a" stroke="#1a1a1a" stroke-width="0.2">Shear</text>
<text x="629.06" y="92.30" font-family="Liberation Sans" font-size="11" fill="#1a1a1a" stroke="#1a1a1a" stroke-width="0.2">1</text>
<text x="635.16" y="84.10" font-family="Liberation Sans" font-size="15.2" fill="#1a1a1a" stroke="#1a1a1a" stroke-width="0.2">=61cpm</text>
<text x="554.15" y="110.70" font-family="Liberation Sans" font-size="15.2" font-style="italic" fill="#1a1a1a" stroke="#1a1a1a" stroke-width="0.2">k</text>
<text x="561.20" y="119.00" font-family="Liberation Sans" font-size="12" font-style="italic" fill="#1a1a1a" stroke="#1a1a1a" stroke-width="0.2">max</text>
<text x="588.21" y="110.70" font-family="Liberation Sans" font-size="15.2" fill="#1a1a1a" stroke="#1a1a1a" stroke-width="0.2">Shear</text>
<text x="629.35" y="118.90" font-family="Liberation Sans" font-size="11" fill="#1a1a1a" stroke="#1a1a1a" stroke-width="0.2">2</text>
<text x="635.16" y="110.70" font-family="Liberation Sans" font-size="15.2" fill="#1a1a1a" stroke="#1a1a1a" stroke-width="0.2">=61cpm</text>
<text x="553.15" y="137.70" font-family="Liberation Sans" font-size="15.2" fill="#1a1a1a" stroke="#1a1a1a" stroke-width="0.2">Nasmyth</text>
<text x="619.68" y="137.70" font-family="Liberation Sans" font-size="15.2" fill="#1a1a1a" stroke="#1a1a1a" stroke-width="0.2">spectrum</text>
<text x="110.15" y="53.90" font-family="Liberation Sans" font-size="17.0" fill="#1a1a1a" stroke="#1a1a1a" stroke-width="0.2">(a)</text>
<text x="207.95" y="89.70" font-family="Liberation Serif" font-size="15" font-style="italic" fill="#1a1a1a" stroke="#1a1a1a" stroke-width="0.2">ϵ</text>
<text x="215.18" y="89.70" font-family="Liberation Sans" font-size="16" fill="#1a1a1a" stroke="#1a1a1a" stroke-width="0.2">1</text>
<text x="229.22" y="89.70" font-family="Liberation Sans" font-size="16" fill="#1a1a1a" stroke="#1a1a1a" stroke-width="0.2">=</text>
<text x="243.80" y="89.70" font-family="Liberation Sans" font-size="16" fill="#1a1a1a" stroke="#1a1a1a" stroke-width="0.2">8.5</text>
<path d="M275.4,82.3 L283.0,89.5 M275.4,89.5 L283.0,82.3" stroke="#1a1a1a" stroke-width="1.1" fill="none"/>
<text x="291.68" y="89.70" font-family="Liberation Sans" font-size="16" fill="#1a1a1a" stroke="#1a1a1a" stroke-width="0.2">10</text>
<text x="310.67" y="82.10" font-family="Liberation Sans" font-size="12" fill="#1a1a1a" stroke="#1a1a1a" stroke-width="0.2">-8</text>
<text x="326.93" y="89.70" font-family="Liberation Sans" font-size="16" fill="#1a1a1a" stroke="#1a1a1a" stroke-width="0.2">W</text>
<text x="348.32" y="89.70" font-family="Liberation Sans" font-size="16" fill="#1a1a1a" stroke="#1a1a1a" stroke-width="0.2">kg</text>
<text x="366.37" y="82.70" font-family="Liberation Sans" font-size="12" fill="#1a1a1a" stroke="#1a1a1a" stroke-width="0.2">-1</text>
<text x="207.95" y="115.70" font-family="Liberation Serif" font-size="15" font-style="italic" fill="#1a1a1a" stroke="#1a1a1a" stroke-width="0.2">ϵ</text>
<text x="215.60" y="115.70" font-family="Liberation Sans" font-size="16" fill="#1a1a1a" stroke="#1a1a1a" stroke-width="0.2">2</text>
<text x="229.22" y="115.70" font-family="Liberation Sans" font-size="16" fill="#1a1a1a" stroke="#1a1a1a" stroke-width="0.2">=</text>
<text x="243.80" y="115.70" font-family="Liberation Sans" font-size="16" fill="#1a1a1a" stroke="#1a1a1a" stroke-width="0.2">8.2</text>
<path d="M275.4,108.3 L283.0,115.5 M275.4,115.5 L283.0,108.3" stroke="#1a1a1a" stroke-width="1.1" fill="none"/>
<text x="291.68" y="115.70" font-family="Liberation Sans" font-size="16" fill="#1a1a1a" stroke="#1a1a1a" stroke-width="0.2">10</text>
<text x="310.67" y="108.10" font-family="Liberation Sans" font-size="12" fill="#1a1a1a" stroke="#1a1a1a" stroke-width="0.2">-8</text>
<text x="326.93" y="115.70" font-family="Liberation Sans" font-size="16" fill="#1a1a1a" stroke="#1a1a1a" stroke-width="0.2">W</text>
<text x="348.32" y="115.70" font-family="Liberation Sans" font-size="16" fill="#1a1a1a" stroke="#1a1a1a" stroke-width="0.2">kg</text>
<text x="366.37" y="108.70" font-family="Liberation Sans" font-size="12" fill="#1a1a1a" stroke="#1a1a1a" stroke-width="0.2">-1</text>
<clipPath id="c1"><rect x="89.5" y="595.25" width="614.0" height="468.4"/></clipPath>
<line x1="160.47" y1="595.25" x2="160.47" y2="1063.65" stroke="#f2f2f2" stroke-width="1"/>
<line x1="201.98" y1="595.25" x2="201.98" y2="1063.65" stroke="#f2f2f2" stroke-width="1"/>
<line x1="231.44" y1="595.25" x2="231.44" y2="1063.65" stroke="#f2f2f2" stroke-width="1"/>
<line x1="254.28" y1="595.25" x2="254.28" y2="1063.65" stroke="#f2f2f2" stroke-width="1"/>
<line x1="272.95" y1="595.25" x2="272.95" y2="1063.65" stroke="#f2f2f2" stroke-width="1"/>
<line x1="288.73" y1="595.25" x2="288.73" y2="1063.65" stroke="#f2f2f2" stroke-width="1"/>
<line x1="302.40" y1="595.25" x2="302.40" y2="1063.65" stroke="#f2f2f2" stroke-width="1"/>
<line x1="314.46" y1="595.25" x2="314.46" y2="1063.65" stroke="#f2f2f2" stroke-width="1"/>
<line x1="396.22" y1="595.25" x2="396.22" y2="1063.65" stroke="#f2f2f2" stroke-width="1"/>
<line x1="437.73" y1="595.25" x2="437.73" y2="1063.65" stroke="#f2f2f2" stroke-width="1"/>
<line x1="467.19" y1="595.25" x2="467.19" y2="1063.65" stroke="#f2f2f2" stroke-width="1"/>
<line x1="490.03" y1="595.25" x2="490.03" y2="1063.65" stroke="#f2f2f2" stroke-width="1"/>
<line x1="508.70" y1="595.25" x2="508.70" y2="1063.65" stroke="#f2f2f2" stroke-width="1"/>
<line x1="524.48" y1="595.25" x2="524.48" y2="1063.65" stroke="#f2f2f2" stroke-width="1"/>
<line x1="538.15" y1="595.25" x2="538.15" y2="1063.65" stroke="#f2f2f2" stroke-width="1"/>
<line x1="550.21" y1="595.25" x2="550.21" y2="1063.65" stroke="#f2f2f2" stroke-width="1"/>
<line x1="631.97" y1="595.25" x2="631.97" y2="1063.65" stroke="#f2f2f2" stroke-width="1"/>
<line x1="673.48" y1="595.25" x2="673.48" y2="1063.65" stroke="#f2f2f2" stroke-width="1"/>
<line x1="702.94" y1="595.25" x2="702.94" y2="1063.65" stroke="#f2f2f2" stroke-width="1"/>
<line x1="325.25" y1="595.25" x2="325.25" y2="1063.65" stroke="#e8e8e8" stroke-width="1"/>
<line x1="561.00" y1="595.25" x2="561.00" y2="1063.65" stroke="#e8e8e8" stroke-width="1"/>
<line x1="89.5" y1="712.35" x2="703.5" y2="712.35" stroke="#e8e8e8" stroke-width="1"/>
<line x1="89.5" y1="829.45" x2="703.5" y2="829.45" stroke="#e8e8e8" stroke-width="1"/>
<line x1="89.5" y1="946.55" x2="703.5" y2="946.55" stroke="#e8e8e8" stroke-width="1"/>
<g clip-path="url(#c1)" fill="none" stroke-linejoin="round" stroke-linecap="round">
<path d="M137.0,838.6 L207.3,834.4 L248.6,840.5 L278.3,842.4 L301.1,852.4 L319.7,851.6 L335.4,848.3 L349.1,857.4 L361.1,884.0 L371.8,908.1 L381.6,888.2 L390.4,872.4 L398.6,855.0 L406.2,858.3 L413.2,859.1 L419.8,875.7 L426.0,874.9 L431.8,881.5 L437.3,893.2 L442.6,899.0 L447.5,890.0 L452.3,878.0 L457.0,875.5 L461.6,886.6 L464.9,913.2 L468.3,917.3 L474.9,914.8 L484.0,904.9 L488.2,933.3 L493.2,943.2 L499.0,969.0 L505.6,954.0 L509.0,952.0 L513.1,949.0 L516.5,930.8 L521.4,931.6 L526.4,943.2 L530.6,931.6 L533.9,916.6 L536.4,928.3 L539.0,920.0 L540.0,926.8 L544.1,902.5 L546.3,909.7 L549.0,922.3 L550.8,912.4 L553.0,918.0 L555.0,905.0 L558.0,898.0 L561.2,932.3 L563.5,915.0 L566.1,901.6 L567.9,918.7 L571.1,906.1 L573.3,928.6 L576.5,891.7 L579.6,932.3 L582.0,912.0 L584.1,899.8 L586.8,919.6 L590.0,925.0 L593.2,893.5 L595.4,934.0 L598.6,897.1 L600.5,912.0 L602.2,909.7 L602.8,940.0 L604.1,967.0 L605.9,987.7 L607.5,985.0 L609.1,1001.3 L611.3,974.2 L613.1,997.7 L615.4,960.7 L617.6,979.6 L618.5,1013.0 L619.9,996.8 L621.5,1005.0 L623.5,991.4 L624.8,1043.6 L626.6,997.7 L628.9,1014.8 L630.5,1008.0 L632.9,1014.8 L634.7,1049.1 L637.9,1003.1 L640.6,1041.8 L643.3,1003.6 L644.8,1025.0 L646.9,1058.1 L648.3,1039.1 L651.4,1030.1 L652.8,1066.0" stroke="#0072BD" stroke-width="3.4"/>
<path d="M137.0,832.1 L207.3,825.8 L248.6,849.9 L278.3,846.6 L301.1,843.3 L319.7,847.4 L335.4,848.3 L349.1,861.5 L361.1,870.7 L371.8,889.9 L381.6,874.9 L390.4,872.4 L398.6,884.0 L406.2,888.2 L413.2,896.5 L419.8,913.1 L426.0,918.0 L431.8,889.9 L437.3,896.5 L442.6,918.0 L446.6,929.8 L450.8,916.6 L456.0,905.0 L461.6,916.5 L469.1,912.4 L476.6,939.9 L483.2,932.4 L488.2,936.6 L493.2,934.9 L496.5,927.5 L502.3,953.2 L506.5,939.9 L510.6,930.0 L513.1,931.6 L518.1,963.2 L523.1,938.3 L526.4,933.3 L530.6,952.4 L535.6,934.9 L540.0,947.6 L543.6,924.1 L545.9,935.0 L549.0,933.2 L554.4,906.1 L556.7,907.0 L560.7,919.6 L564.3,933.2 L567.5,922.3 L572.0,958.4 L576.5,928.6 L578.3,942.2 L580.0,937.0 L581.9,946.7 L585.5,922.3 L589.1,949.4 L592.7,931.4 L594.5,943.1 L597.2,936.8 L599.6,960.7 L601.0,948.1 L602.3,995.0 L603.2,1003.1 L605.5,1020.2 L606.8,1012.1 L609.1,1036.4 L611.3,1013.0 L614.0,1031.0 L615.4,1013.0 L617.5,1022.0 L619.9,1037.3 L622.6,1013.0 L624.5,1025.0 L627.1,1032.8 L629.3,1021.1 L630.7,1052.7 L632.9,1061.7 L635.6,1050.9 L637.4,1043.6 L639.2,1061.7 L641.0,1052.0 L643.3,1023.8 L645.1,1061.7 L647.8,1059.9 L649.5,1064.0 L651.9,1061.7 L652.5,1066.0" stroke="#F9530E" stroke-width="3.4"/>
<path d="M452.2,868.9 L462.5,886.8 L441.9,886.8 Z" fill="#0072BD" stroke="none"/>
<path d="M457.0,891.9 L467.3,909.9 L446.7,909.9 Z" fill="#F9530E" stroke="none"/>
<path d="M136.83,851.25 L137.84,851.16 L138.86,851.08 L139.87,850.99 L140.89,850.91 L141.91,850.83 L142.92,850.74 L143.94,850.66 L144.95,850.57 L145.97,850.49 L146.98,850.41 L148.00,850.32 L149.01,850.24 L150.03,850.15 L151.05,850.07 L152.06,849.99 L153.08,849.90 L154.09,849.82 L155.11,849.73 L156.12,849.65 L157.14,849.57 L158.15,849.48 L159.17,849.40 L160.19,849.31 L161.20,849.23 L162.22,849.15 L163.23,849.06 L164.25,848.98 L165.26,848.90 L166.28,848.81 L167.29,848.73 L168.31,848.65 L169.33,848.56 L170.34,848.48 L171.36,848.40 L172.37,848.31 L173.39,848.23 L174.40,848.15 L175.42,848.06 L176.43,847.98 L177.45,847.90 L178.46,847.81 L179.48,847.73 L180.50,847.65 L181.51,847.56 L182.53,847.48 L183.54,847.40 L184.56,847.32 L185.57,847.23 L186.59,847.15 L187.60,847.07 L188.62,846.99 L189.64,846.90 L190.65,846.82 L191.67,846.74 L192.68,846.66 L193.70,846.57 L194.71,846.49 L195.73,846.41 L196.74,846.33 L197.76,846.25 L198.78,846.17 L199.79,846.08 L200.81,846.00 L201.82,845.92 L202.84,845.84 L203.85,845.76 L204.87,845.68 L205.88,845.60 L206.90,845.52 L207.91,845.44 L208.93,845.36 L209.95,845.28 L210.96,845.20 L211.98,845.12 L212.99,845.04 L214.01,844.96 L215.02,844.88 L216.04,844.80 L217.05,844.72 L218.07,844.64 L219.09,844.56 L220.10,844.48 L221.12,844.41 L222.13,844.33 L223.15,844.25 L224.16,844.17 L225.18,844.10 L226.19,844.02 L227.21,843.94 L228.23,843.87 L229.24,843.79 L230.26,843.72 L231.27,843.64 L232.29,843.57 L233.30,843.49 L234.32,843.42 L235.33,843.34 L236.35,843.27 L237.37,843.20 L238.38,843.13 L239.40,843.05 L240.41,842.98 L241.43,842.91 L242.44,842.84 L243.46,842.77 L244.47,842.70 L245.49,842.63 L246.50,842.56 L247.52,842.50 L248.54,842.43 L249.55,842.36 L250.57,842.30 L251.58,842.23 L252.60,842.17 L253.61,842.10 L254.63,842.04 L255.64,841.98 L256.66,841.92 L257.68,841.86 L258.69,841.80 L259.71,841.74 L260.72,841.68 L261.74,841.62 L262.75,841.57 L263.77,841.51 L264.78,841.46 L265.80,841.41 L266.82,841.35 L267.83,841.30 L268.85,841.25 L269.86,841.21 L270.88,841.16 L271.89,841.12 L272.91,841.07 L273.92,841.03 L274.94,840.99 L275.95,840.95 L276.97,840.91 L277.99,840.88 L279.00,840.84 L280.02,840.81 L281.03,840.78 L282.05,840.75 L283.06,840.73 L284.08,840.70 L285.09,840.68 L286.11,840.66 L287.13,840.64 L288.14,840.63 L289.16,840.61 L290.17,840.60 L291.19,840.59 L292.20,840.59 L293.22,840.59 L294.23,840.59 L295.25,840.59 L296.27,840.59 L297.28,840.60 L298.30,840.62 L299.31,840.63 L300.33,840.65 L301.34,840.67 L302.36,840.70 L303.37,840.73 L304.39,840.76 L305.41,840.80 L306.42,840.84 L307.44,840.88 L308.45,840.93 L309.47,840.99 L310.48,841.04 L311.50,841.11 L312.51,841.17 L313.53,841.24 L314.54,841.32 L315.56,841.40 L316.58,841.49 L317.59,841.58 L318.61,841.68 L319.62,841.78 L320.64,841.89 L321.65,842.00 L322.67,842.12 L323.68,842.25 L324.70,842.38 L325.72,842.52 L326.73,842.67 L327.75,842.82 L328.76,842.97 L329.78,843.14 L330.79,843.31 L331.81,843.49 L332.82,843.67 L333.84,843.87 L334.86,844.07 L335.87,844.27 L336.89,844.49 L337.90,844.71 L338.92,844.94 L339.93,845.18 L340.95,845.42 L341.96,845.68 L342.98,845.94 L343.99,846.21 L345.01,846.49 L346.03,846.77 L347.04,847.07 L348.06,847.37 L349.07,847.68 L350.09,848.00 L351.10,848.33 L352.12,848.67 L353.13,849.01 L354.15,849.37 L355.17,849.73 L356.18,850.10 L357.20,850.48 L358.21,850.87 L359.23,851.27 L360.24,851.67 L361.26,852.09 L362.27,852.51 L363.29,852.95 L364.31,853.39 L365.32,853.84 L366.34,854.29 L367.35,854.76 L368.37,855.24 L369.38,855.72 L370.40,856.21 L371.41,856.71 L372.43,857.22 L373.45,857.73 L374.46,858.26 L375.48,858.79 L376.49,859.33 L377.51,859.88 L378.52,860.43 L379.54,861.00 L380.55,861.57 L381.57,862.14 L382.58,862.73 L383.60,863.32 L384.62,863.92 L385.63,864.52 L386.65,865.14 L387.66,865.75 L388.68,866.38 L389.69,867.01 L390.71,867.65 L391.72,868.29 L392.74,868.94 L393.76,869.60 L394.77,870.26 L395.79,870.93 L396.80,871.60 L397.82,872.28 L398.83,872.96 L399.85,873.65 L400.86,874.35 L401.88,875.05 L402.90,875.75 L403.91,876.46 L404.93,877.17 L405.94,877.89 L406.96,878.61 L407.97,879.34 L408.99,880.07 L410.00,880.80 L411.02,881.54 L412.04,882.28 L413.05,883.02 L414.07,883.77 L415.08,884.53 L416.10,885.28 L417.11,886.04 L418.13,886.80 L419.14,887.57 L420.16,888.34 L421.17,889.11 L422.19,889.88 L423.21,890.66 L424.22,891.44 L425.24,892.22 L426.25,893.01 L427.27,893.79 L428.28,894.58 L429.30,895.37 L430.31,896.17 L431.33,896.96 L432.35,897.76 L433.36,898.56 L434.38,899.36 L435.39,900.17 L436.41,900.97 L437.42,901.78 L438.44,902.59 L439.45,903.40 L440.47,904.21 L441.49,905.03 L442.50,905.84 L443.52,906.66 L444.53,907.48 L445.55,908.30 L446.56,909.12 L447.58,909.94 L448.59,910.76 L449.61,911.59 L450.62,912.41 L451.64,913.24 L452.66,914.07 L453.67,914.90 L454.69,915.73 L455.70,916.56 L456.72,917.39 L457.73,918.22 L458.75,919.05 L459.76,919.89 L460.78,920.72 L461.80,921.56 L462.81,922.40 L463.83,923.23 L464.84,924.07 L465.86,924.91 L466.87,925.75 L467.89,926.59 L468.90,927.43 L469.92,928.27 L470.94,929.11 L471.95,929.95 L472.97,930.80 L473.98,931.64 L475.00,932.48 L476.01,933.33 L477.03,934.17 L478.04,935.02 L479.06,935.86 L480.08,936.71 L481.09,937.55 L482.11,938.40 L483.12,939.25 L484.14,940.09 L485.15,940.94 L486.17,941.79 L487.18,942.64 L488.20,943.49 L489.21,944.34 L490.23,945.19 L491.25,946.03 L492.26,946.88 L493.28,947.73 L494.29,948.58 L495.31,949.44 L496.32,950.29 L497.34,951.14 L498.35,951.99 L499.37,952.84 L500.39,953.69 L501.40,954.54 L502.42,955.39 L503.43,956.25 L504.45,957.10 L505.46,957.95 L506.48,958.80 L507.49,959.66 L508.51,960.51 L509.53,961.36 L510.54,962.21 L511.56,963.07 L512.57,963.92 L513.59,964.77 L514.60,965.63 L515.62,966.48 L516.63,967.34 L517.65,968.19 L518.66,969.04 L519.68,969.90 L520.70,970.75 L521.71,971.61 L522.73,972.46 L523.74,973.32 L524.76,974.17 L525.77,975.02 L526.79,975.88 L527.80,976.73 L528.82,977.59 L529.84,978.44 L530.85,979.30 L531.87,980.15 L532.88,981.01 L533.90,981.86 L534.91,982.72 L535.93,983.57 L536.94,984.43 L537.96,985.29 L538.98,986.14 L539.99,987.00 L541.01,987.85 L542.02,988.71 L543.04,989.56 L544.05,990.42 L545.07,991.27 L546.08,992.13 L547.10,992.99 L548.12,993.84 L549.13,994.70 L550.15,995.55 L551.16,996.41 L552.18,997.26 L553.19,998.12 L554.21,998.98 L555.22,999.83 L556.24,1000.69 L557.25,1001.54 L558.27,1002.40 L559.29,1003.26 L560.30,1004.11 L561.32,1004.97 L562.33,1005.83 L563.35,1006.68 L564.36,1007.54 L565.38,1008.39 L566.39,1009.25 L567.41,1010.11 L568.43,1010.96 L569.44,1011.82 L570.46,1012.68 L571.47,1013.53 L572.49,1014.39 L573.50,1015.24 L574.52,1016.10 L575.53,1016.96 L576.55,1017.81 L577.57,1018.67 L578.58,1019.53 L579.60,1020.38 L580.61,1021.24 L581.63,1022.10 L582.64,1022.95 L583.66,1023.81 L584.67,1024.66 L585.69,1025.52 L586.70,1026.38 L587.72,1027.23 L588.74,1028.09 L589.75,1028.95 L590.77,1029.80 L591.78,1030.66 L592.80,1031.52 L593.81,1032.37 L594.83,1033.23 L595.84,1034.09 L596.86,1034.94 L597.88,1035.80 L598.89,1036.66 L599.91,1037.51 L600.92,1038.37 L601.94,1039.23 L602.95,1040.08 L603.97,1040.94 L604.98,1041.80 L606.00,1042.65 L607.02,1043.51 L608.03,1044.37 L609.05,1045.22 L610.06,1046.08 L611.08,1046.94 L612.09,1047.79 L613.11,1048.65 L614.12,1049.51 L615.14,1050.36 L616.16,1051.22 L617.17,1052.08 L618.19,1052.93 L619.20,1053.79 L620.22,1054.65 L621.23,1055.50 L622.25,1056.36 L623.26,1057.22 L624.28,1058.07 L625.29,1058.93 L626.31,1059.79 L627.33,1060.64 L628.34,1061.50 L629.36,1062.36 L630.37,1063.21 L631.39,1064.07 L632.40,1064.93 L633.42,1065.78 L634.43,1066.64 L635.45,1067.50 L636.47,1068.35 L637.48,1069.21 L638.50,1070.07 L639.51,1070.92 L640.53,1071.78 L641.54,1072.64 L642.56,1073.49 L643.57,1074.35 L644.59,1075.21 L645.61,1076.06 L646.62,1076.92 L647.64,1077.78 L648.65,1078.63 L649.67,1079.49 L650.68,1080.35 L651.70,1081.20 L652.71,1082.06 L653.73,1082.92 L654.74,1083.77 L655.76,1084.63 L656.78,1085.49 L657.79,1086.34 L658.81,1087.20 L659.82,1088.06 L660.84,1088.91 L661.85,1089.77 L662.87,1090.63 L663.88,1091.48 L664.90,1092.34 L665.92,1093.20 L666.93,1094.05 L667.95,1094.91 L668.96,1095.77 L669.98,1096.62 L670.99,1097.48 L672.01,1098.34 L673.02,1099.19 L674.04,1100.05 L675.06,1100.91 L676.07,1101.76 L677.09,1102.62 L678.10,1103.48 L679.12,1104.33 L680.13,1105.19 L681.15,1106.05 L682.16,1106.90 L683.18,1107.76 L684.20,1108.62 L685.21,1109.47 L686.23,1110.33 L687.24,1111.19 L688.26,1112.04 L689.27,1112.90 L690.29,1113.76 L691.30,1114.61 L692.32,1115.47 L693.33,1116.33 L694.35,1117.18 L695.37,1118.04 L696.38,1118.90 L697.40,1119.75 L698.41,1120.61 L699.43,1121.47 L700.44,1122.32 L701.46,1123.18 L702.47,1124.04 L703.49,1124.89 L704.51,1125.75 L705.52,1126.61 L706.54,1127.46 L707.55,1128.32" stroke="#000" stroke-width="1.6"/>
<path d="M136.83,852.58 L137.84,852.49 L138.86,852.41 L139.87,852.32 L140.89,852.24 L141.91,852.15 L142.92,852.07 L143.94,851.99 L144.95,851.90 L145.97,851.82 L146.98,851.73 L148.00,851.65 L149.01,851.57 L150.03,851.48 L151.05,851.40 L152.06,851.32 L153.08,851.23 L154.09,851.15 L155.11,851.06 L156.12,850.98 L157.14,850.90 L158.15,850.81 L159.17,850.73 L160.19,850.65 L161.20,850.56 L162.22,850.48 L163.23,850.39 L164.25,850.31 L165.26,850.23 L166.28,850.14 L167.29,850.06 L168.31,849.98 L169.33,849.89 L170.34,849.81 L171.36,849.73 L172.37,849.64 L173.39,849.56 L174.40,849.48 L175.42,849.39 L176.43,849.31 L177.45,849.23 L178.46,849.14 L179.48,849.06 L180.50,848.98 L181.51,848.90 L182.53,848.81 L183.54,848.73 L184.56,848.65 L185.57,848.57 L186.59,848.48 L187.60,848.40 L188.62,848.32 L189.64,848.24 L190.65,848.15 L191.67,848.07 L192.68,847.99 L193.70,847.91 L194.71,847.83 L195.73,847.74 L196.74,847.66 L197.76,847.58 L198.78,847.50 L199.79,847.42 L200.81,847.34 L201.82,847.26 L202.84,847.18 L203.85,847.10 L204.87,847.01 L205.88,846.93 L206.90,846.85 L207.91,846.77 L208.93,846.69 L209.95,846.61 L210.96,846.53 L211.98,846.45 L212.99,846.38 L214.01,846.30 L215.02,846.22 L216.04,846.14 L217.05,846.06 L218.07,845.98 L219.09,845.90 L220.10,845.83 L221.12,845.75 L222.13,845.67 L223.15,845.59 L224.16,845.52 L225.18,845.44 L226.19,845.37 L227.21,845.29 L228.23,845.21 L229.24,845.14 L230.26,845.06 L231.27,844.99 L232.29,844.92 L233.30,844.84 L234.32,844.77 L235.33,844.70 L236.35,844.62 L237.37,844.55 L238.38,844.48 L239.40,844.41 L240.41,844.34 L241.43,844.27 L242.44,844.20 L243.46,844.13 L244.47,844.06 L245.49,843.99 L246.50,843.93 L247.52,843.86 L248.54,843.79 L249.55,843.73 L250.57,843.66 L251.58,843.60 L252.60,843.54 L253.61,843.47 L254.63,843.41 L255.64,843.35 L256.66,843.29 L257.68,843.23 L258.69,843.18 L259.71,843.12 L260.72,843.06 L261.74,843.01 L262.75,842.95 L263.77,842.90 L264.78,842.85 L265.80,842.80 L266.82,842.75 L267.83,842.70 L268.85,842.66 L269.86,842.61 L270.88,842.57 L271.89,842.53 L272.91,842.49 L273.92,842.45 L274.94,842.41 L275.95,842.37 L276.97,842.34 L277.99,842.31 L279.00,842.28 L280.02,842.25 L281.03,842.22 L282.05,842.20 L283.06,842.17 L284.08,842.15 L285.09,842.14 L286.11,842.12 L287.13,842.11 L288.14,842.10 L289.16,842.09 L290.17,842.08 L291.19,842.08 L292.20,842.08 L293.22,842.08 L294.23,842.09 L295.25,842.10 L296.27,842.11 L297.28,842.13 L298.30,842.14 L299.31,842.17 L300.33,842.19 L301.34,842.22 L302.36,842.25 L303.37,842.29 L304.39,842.33 L305.41,842.38 L306.42,842.43 L307.44,842.48 L308.45,842.54 L309.47,842.60 L310.48,842.67 L311.50,842.74 L312.51,842.81 L313.53,842.89 L314.54,842.98 L315.56,843.07 L316.58,843.17 L317.59,843.27 L318.61,843.38 L319.62,843.50 L320.64,843.62 L321.65,843.74 L322.67,843.87 L323.68,844.01 L324.70,844.16 L325.72,844.31 L326.73,844.46 L327.75,844.63 L328.76,844.80 L329.78,844.98 L330.79,845.16 L331.81,845.36 L332.82,845.55 L333.84,845.76 L334.86,845.98 L335.87,846.20 L336.89,846.43 L337.90,846.67 L338.92,846.91 L339.93,847.16 L340.95,847.42 L341.96,847.69 L342.98,847.97 L343.99,848.26 L345.01,848.55 L346.03,848.85 L347.04,849.17 L348.06,849.49 L349.07,849.81 L350.09,850.15 L351.10,850.50 L352.12,850.85 L353.13,851.21 L354.15,851.58 L355.17,851.96 L356.18,852.35 L357.20,852.75 L358.21,853.16 L359.23,853.57 L360.24,853.99 L361.26,854.43 L362.27,854.87 L363.29,855.32 L364.31,855.77 L365.32,856.24 L366.34,856.71 L367.35,857.20 L368.37,857.69 L369.38,858.19 L370.40,858.70 L371.41,859.21 L372.43,859.74 L373.45,860.27 L374.46,860.81 L375.48,861.35 L376.49,861.91 L377.51,862.47 L378.52,863.04 L379.54,863.62 L380.55,864.20 L381.57,864.79 L382.58,865.39 L383.60,866.00 L384.62,866.61 L385.63,867.23 L386.65,867.85 L387.66,868.49 L388.68,869.12 L389.69,869.77 L390.71,870.42 L391.72,871.07 L392.74,871.73 L393.76,872.40 L394.77,873.07 L395.79,873.75 L396.80,874.44 L397.82,875.13 L398.83,875.82 L399.85,876.52 L400.86,877.22 L401.88,877.93 L402.90,878.64 L403.91,879.36 L404.93,880.08 L405.94,880.81 L406.96,881.54 L407.97,882.27 L408.99,883.01 L410.00,883.75 L411.02,884.50 L412.04,885.24 L413.05,886.00 L414.07,886.75 L415.08,887.51 L416.10,888.27 L417.11,889.04 L418.13,889.81 L419.14,890.58 L420.16,891.35 L421.17,892.13 L422.19,892.91 L423.21,893.69 L424.22,894.47 L425.24,895.26 L426.25,896.05 L427.27,896.84 L428.28,897.64 L429.30,898.43 L430.31,899.23 L431.33,900.03 L432.35,900.83 L433.36,901.64 L434.38,902.44 L435.39,903.25 L436.41,904.06 L437.42,904.87 L438.44,905.68 L439.45,906.49 L440.47,907.31 L441.49,908.13 L442.50,908.94 L443.52,909.76 L444.53,910.58 L445.55,911.41 L446.56,912.23 L447.58,913.05 L448.59,913.88 L449.61,914.71 L450.62,915.53 L451.64,916.36 L452.66,917.19 L453.67,918.02 L454.69,918.86 L455.70,919.69 L456.72,920.52 L457.73,921.36 L458.75,922.19 L459.76,923.03 L460.78,923.86 L461.80,924.70 L462.81,925.54 L463.83,926.38 L464.84,927.22 L465.86,928.06 L466.87,928.90 L467.89,929.74 L468.90,930.58 L469.92,931.42 L470.94,932.26 L471.95,933.11 L472.97,933.95 L473.98,934.79 L475.00,935.64 L476.01,936.48 L477.03,937.33 L478.04,938.17 L479.06,939.02 L480.08,939.87 L481.09,940.71 L482.11,941.56 L483.12,942.41 L484.14,943.26 L485.15,944.11 L486.17,944.95 L487.18,945.80 L488.20,946.65 L489.21,947.50 L490.23,948.35 L491.25,949.20 L492.26,950.05 L493.28,950.90 L494.29,951.75 L495.31,952.60 L496.32,953.45 L497.34,954.31 L498.35,955.16 L499.37,956.01 L500.39,956.86 L501.40,957.71 L502.42,958.56 L503.43,959.42 L504.45,960.27 L505.46,961.12 L506.48,961.98 L507.49,962.83 L508.51,963.68 L509.53,964.53 L510.54,965.39 L511.56,966.24 L512.57,967.09 L513.59,967.95 L514.60,968.80 L515.62,969.66 L516.63,970.51 L517.65,971.36 L518.66,972.22 L519.68,973.07 L520.70,973.93 L521.71,974.78 L522.73,975.64 L523.74,976.49 L524.76,977.35 L525.77,978.20 L526.79,979.06 L527.80,979.91 L528.82,980.77 L529.84,981.62 L530.85,982.48 L531.87,983.33 L532.88,984.19 L533.90,985.04 L534.91,985.90 L535.93,986.75 L536.94,987.61 L537.96,988.46 L538.98,989.32 L539.99,990.17 L541.01,991.03 L542.02,991.88 L543.04,992.74 L544.05,993.60 L545.07,994.45 L546.08,995.31 L547.10,996.16 L548.12,997.02 L549.13,997.88 L550.15,998.73 L551.16,999.59 L552.18,1000.44 L553.19,1001.30 L554.21,1002.16 L555.22,1003.01 L556.24,1003.87 L557.25,1004.72 L558.27,1005.58 L559.29,1006.44 L560.30,1007.29 L561.32,1008.15 L562.33,1009.00 L563.35,1009.86 L564.36,1010.72 L565.38,1011.57 L566.39,1012.43 L567.41,1013.29 L568.43,1014.14 L569.44,1015.00 L570.46,1015.85 L571.47,1016.71 L572.49,1017.57 L573.50,1018.42 L574.52,1019.28 L575.53,1020.14 L576.55,1020.99 L577.57,1021.85 L578.58,1022.71 L579.60,1023.56 L580.61,1024.42 L581.63,1025.28 L582.64,1026.13 L583.66,1026.99 L584.67,1027.84 L585.69,1028.70 L586.70,1029.56 L587.72,1030.41 L588.74,1031.27 L589.75,1032.13 L590.77,1032.98 L591.78,1033.84 L592.80,1034.70 L593.81,1035.55 L594.83,1036.41 L595.84,1037.27 L596.86,1038.12 L597.88,1038.98 L598.89,1039.84 L599.91,1040.69 L600.92,1041.55 L601.94,1042.41 L602.95,1043.26 L603.97,1044.12 L604.98,1044.98 L606.00,1045.83 L607.02,1046.69 L608.03,1047.55 L609.05,1048.40 L610.06,1049.26 L611.08,1050.12 L612.09,1050.97 L613.11,1051.83 L614.12,1052.69 L615.14,1053.54 L616.16,1054.40 L617.17,1055.26 L618.19,1056.11 L619.20,1056.97 L620.22,1057.83 L621.23,1058.68 L622.25,1059.54 L623.26,1060.39 L624.28,1061.25 L625.29,1062.11 L626.31,1062.96 L627.33,1063.82 L628.34,1064.68 L629.36,1065.53 L630.37,1066.39 L631.39,1067.25 L632.40,1068.10 L633.42,1068.96 L634.43,1069.82 L635.45,1070.68 L636.47,1071.53 L637.48,1072.39 L638.50,1073.25 L639.51,1074.10 L640.53,1074.96 L641.54,1075.82 L642.56,1076.67 L643.57,1077.53 L644.59,1078.39 L645.61,1079.24 L646.62,1080.10 L647.64,1080.96 L648.65,1081.81 L649.67,1082.67 L650.68,1083.53 L651.70,1084.38 L652.71,1085.24 L653.73,1086.10 L654.74,1086.95 L655.76,1087.81 L656.78,1088.67 L657.79,1089.52 L658.81,1090.38 L659.82,1091.24 L660.84,1092.09 L661.85,1092.95 L662.87,1093.81 L663.88,1094.66 L664.90,1095.52 L665.92,1096.38 L666.93,1097.23 L667.95,1098.09 L668.96,1098.95 L669.98,1099.80 L670.99,1100.66 L672.01,1101.52 L673.02,1102.37 L674.04,1103.23 L675.06,1104.09 L676.07,1104.94 L677.09,1105.80 L678.10,1106.66 L679.12,1107.51 L680.13,1108.37 L681.15,1109.23 L682.16,1110.08 L683.18,1110.94 L684.20,1111.80 L685.21,1112.65 L686.23,1113.51 L687.24,1114.37 L688.26,1115.22 L689.27,1116.08 L690.29,1116.94 L691.30,1117.79 L692.32,1118.65 L693.33,1119.51 L694.35,1120.36 L695.37,1121.22 L696.38,1122.08 L697.40,1122.93 L698.41,1123.79 L699.43,1124.65 L700.44,1125.50 L701.46,1126.36 L702.47,1127.22 L703.49,1128.07 L704.51,1128.93 L705.52,1129.79 L706.54,1130.64 L707.55,1131.50" stroke="#000" stroke-width="1.6"/>
</g>
<rect x="89.5" y="595.25" width="614.0" height="468.4" fill="none" stroke="#6b6b6b" stroke-width="1"/>
<line x1="89.50" y1="1063.65" x2="89.50" y2="1057.15" stroke="#6b6b6b" stroke-width="1"/>
<line x1="89.50" y1="595.25" x2="89.50" y2="601.75" stroke="#6b6b6b" stroke-width="1"/>
<line x1="160.47" y1="1063.65" x2="160.47" y2="1060.45" stroke="#6b6b6b" stroke-width="1"/>
<line x1="160.47" y1="595.25" x2="160.47" y2="598.45" stroke="#6b6b6b" stroke-width="1"/>
<line x1="201.98" y1="1063.65" x2="201.98" y2="1060.45" stroke="#6b6b6b" stroke-width="1"/>
<line x1="201.98" y1="595.25" x2="201.98" y2="598.45" stroke="#6b6b6b" stroke-width="1"/>
<line x1="231.44" y1="1063.65" x2="231.44" y2="1060.45" stroke="#6b6b6b" stroke-width="1"/>
<line x1="231.44" y1="595.25" x2="231.44" y2="598.45" stroke="#6b6b6b" stroke-width="1"/>
<line x1="254.28" y1="1063.65" x2="254.28" y2="1060.45" stroke="#6b6b6b" stroke-width="1"/>
<line x1="254.28" y1="595.25" x2="254.28" y2="598.45" stroke="#6b6b6b" stroke-width="1"/>
<line x1="272.95" y1="1063.65" x2="272.95" y2="1060.45" stroke="#6b6b6b" stroke-width="1"/>
<line x1="272.95" y1="595.25" x2="272.95" y2="598.45" stroke="#6b6b6b" stroke-width="1"/>
<line x1="288.73" y1="1063.65" x2="288.73" y2="1060.45" stroke="#6b6b6b" stroke-width="1"/>
<line x1="288.73" y1="595.25" x2="288.73" y2="598.45" stroke="#6b6b6b" stroke-width="1"/>
<line x1="302.40" y1="1063.65" x2="302.40" y2="1060.45" stroke="#6b6b6b" stroke-width="1"/>
<line x1="302.40" y1="595.25" x2="302.40" y2="598.45" stroke="#6b6b6b" stroke-width="1"/>
<line x1="314.46" y1="1063.65" x2="314.46" y2="1060.45" stroke="#6b6b6b" stroke-width="1"/>
<line x1="314.46" y1="595.25" x2="314.46" y2="598.45" stroke="#6b6b6b" stroke-width="1"/>
<line x1="325.25" y1="1063.65" x2="325.25" y2="1057.15" stroke="#6b6b6b" stroke-width="1"/>
<line x1="325.25" y1="595.25" x2="325.25" y2="601.75" stroke="#6b6b6b" stroke-width="1"/>
<line x1="396.22" y1="1063.65" x2="396.22" y2="1060.45" stroke="#6b6b6b" stroke-width="1"/>
<line x1="396.22" y1="595.25" x2="396.22" y2="598.45" stroke="#6b6b6b" stroke-width="1"/>
<line x1="437.73" y1="1063.65" x2="437.73" y2="1060.45" stroke="#6b6b6b" stroke-width="1"/>
<line x1="437.73" y1="595.25" x2="437.73" y2="598.45" stroke="#6b6b6b" stroke-width="1"/>
<line x1="467.19" y1="1063.65" x2="467.19" y2="1060.45" stroke="#6b6b6b" stroke-width="1"/>
<line x1="467.19" y1="595.25" x2="467.19" y2="598.45" stroke="#6b6b6b" stroke-width="1"/>
<line x1="490.03" y1="1063.65" x2="490.03" y2="1060.45" stroke="#6b6b6b" stroke-width="1"/>
<line x1="490.03" y1="595.25" x2="490.03" y2="598.45" stroke="#6b6b6b" stroke-width="1"/>
<line x1="508.70" y1="1063.65" x2="508.70" y2="1060.45" stroke="#6b6b6b" stroke-width="1"/>
<line x1="508.70" y1="595.25" x2="508.70" y2="598.45" stroke="#6b6b6b" stroke-width="1"/>
<line x1="524.48" y1="1063.65" x2="524.48" y2="1060.45" stroke="#6b6b6b" stroke-width="1"/>
<line x1="524.48" y1="595.25" x2="524.48" y2="598.45" stroke="#6b6b6b" stroke-width="1"/>
<line x1="538.15" y1="1063.65" x2="538.15" y2="1060.45" stroke="#6b6b6b" stroke-width="1"/>
<line x1="538.15" y1="595.25" x2="538.15" y2="598.45" stroke="#6b6b6b" stroke-width="1"/>
<line x1="550.21" y1="1063.65" x2="550.21" y2="1060.45" stroke="#6b6b6b" stroke-width="1"/>
<line x1="550.21" y1="595.25" x2="550.21" y2="598.45" stroke="#6b6b6b" stroke-width="1"/>
<line x1="561.00" y1="1063.65" x2="561.00" y2="1057.15" stroke="#6b6b6b" stroke-width="1"/>
<line x1="561.00" y1="595.25" x2="561.00" y2="601.75" stroke="#6b6b6b" stroke-width="1"/>
<line x1="631.97" y1="1063.65" x2="631.97" y2="1060.45" stroke="#6b6b6b" stroke-width="1"/>
<line x1="631.97" y1="595.25" x2="631.97" y2="598.45" stroke="#6b6b6b" stroke-width="1"/>
<line x1="673.48" y1="1063.65" x2="673.48" y2="1060.45" stroke="#6b6b6b" stroke-width="1"/>
<line x1="673.48" y1="595.25" x2="673.48" y2="598.45" stroke="#6b6b6b" stroke-width="1"/>
<line x1="702.94" y1="1063.65" x2="702.94" y2="1060.45" stroke="#6b6b6b" stroke-width="1"/>
<line x1="702.94" y1="595.25" x2="702.94" y2="598.45" stroke="#6b6b6b" stroke-width="1"/>
<line x1="89.5" y1="595.25" x2="96.0" y2="595.25" stroke="#6b6b6b" stroke-width="1"/>
<line x1="703.5" y1="595.25" x2="697.0" y2="595.25" stroke="#6b6b6b" stroke-width="1"/>
<line x1="89.5" y1="712.35" x2="96.0" y2="712.35" stroke="#6b6b6b" stroke-width="1"/>
<line x1="703.5" y1="712.35" x2="697.0" y2="712.35" stroke="#6b6b6b" stroke-width="1"/>
<line x1="89.5" y1="829.45" x2="96.0" y2="829.45" stroke="#6b6b6b" stroke-width="1"/>
<line x1="703.5" y1="829.45" x2="697.0" y2="829.45" stroke="#6b6b6b" stroke-width="1"/>
<line x1="89.5" y1="946.55" x2="96.0" y2="946.55" stroke="#6b6b6b" stroke-width="1"/>
<line x1="703.5" y1="946.55" x2="697.0" y2="946.55" stroke="#6b6b6b" stroke-width="1"/>
<line x1="89.5" y1="1063.65" x2="96.0" y2="1063.65" stroke="#6b6b6b" stroke-width="1"/>
<line x1="703.5" y1="1063.65" x2="697.0" y2="1063.65" stroke="#6b6b6b" stroke-width="1"/>
<text x="75.79" y="1091.80" font-family="Liberation Sans" font-size="16.6" fill="#262626" stroke="#262626" stroke-width="0.2">10</text>
<text x="96.34" y="1082.80" font-family="Liberation Sans" font-size="12" fill="#262626" stroke="#262626" stroke-width="0.2">0</text>
<text x="311.07" y="1091.80" font-family="Liberation Sans" font-size="16.6" fill="#262626" stroke="#262626" stroke-width="0.2">10</text>
<text x="331.17" y="1082.80" font-family="Liberation Sans" font-size="12" fill="#262626" stroke="#262626" stroke-width="0.2">1</text>
<text x="547.88" y="1091.80" font-family="Liberation Sans" font-size="16.6" fill="#262626" stroke="#262626" stroke-width="0.2">10</text>
<text x="568.29" y="1082.80" font-family="Liberation Sans" font-size="12" fill="#262626" stroke="#262626" stroke-width="0.2">2</text>
<text x="76.29" y="595.65" font-family="Liberation Sans" font-size="12" fill="#262626" stroke="#262626" stroke-width="0.2">0</text>
<text x="57.05" y="604.25" font-family="Liberation Sans" font-size="16.6" fill="#262626" stroke="#262626" stroke-width="0.2">10</text>
<text x="72.43" y="712.75" font-family="Liberation Sans" font-size="12" fill="#262626" stroke="#262626" stroke-width="0.2">-2</text>
<text x="53.25" y="721.35" font-family="Liberation Sans" font-size="16.6" fill="#262626" stroke="#262626" stroke-width="0.2">10</text>
<text x="72.18" y="829.85" font-family="Liberation Sans" font-size="12" fill="#262626" stroke="#262626" stroke-width="0.2">-4</text>
<text x="53.00" y="838.45" font-family="Liberation Sans" font-size="16.6" fill="#262626" stroke="#262626" stroke-width="0.2">10</text>
<text x="72.36" y="946.95" font-family="Liberation Sans" font-size="12" fill="#262626" stroke="#262626" stroke-width="0.2">-6</text>
<text x="53.17" y="955.55" font-family="Liberation Sans" font-size="16.6" fill="#262626" stroke="#262626" stroke-width="0.2">10</text>
<text x="72.35" y="1064.05" font-family="Liberation Sans" font-size="12" fill="#262626" stroke="#262626" stroke-width="0.2">-8</text>
<text x="53.17" y="1072.65" font-family="Liberation Sans" font-size="16.6" fill="#262626" stroke="#262626" stroke-width="0.2">10</text>
<text x="365.21" y="1115.60" font-family="Liberation Sans" font-size="17.6" font-style="italic" fill="#262626" stroke="#262626" stroke-width="0.2">k</text>
<text x="383.65" y="1115.60" font-family="Liberation Sans" font-size="17.6" letter-spacing="0.5" fill="#262626" stroke="#262626" stroke-width="0.2">[cpm]</text>
<g transform="translate(35.6,0) rotate(-90)">
<text x="-877.64" y="0.00" font-family="Liberation Sans" font-size="17.6" fill="#262626" stroke="#262626" stroke-width="0.2">(</text>
<text x="-870.64" y="0.00" font-family="Liberation Sans" font-size="17.6" font-style="italic" fill="#262626" stroke="#262626" stroke-width="0.2">k</text>
<text x="-862.22" y="0.00" font-family="Liberation Sans" font-size="17.6" fill="#262626" stroke="#262626" stroke-width="0.2">)</text>
<text x="-846.50" y="0.00" font-family="Liberation Sans" font-size="17.6" fill="#262626" stroke="#262626" stroke-width="0.2">[</text>
<text x="-840.04" y="0.00" font-family="Liberation Sans" font-size="17.6" fill="#262626" stroke="#262626" stroke-width="0.2">s</text>
<text x="-830.73" y="-9.30" font-family="Liberation Sans" font-size="13" fill="#262626" stroke="#262626" stroke-width="0.2">-2</text>
<text x="-813.80" y="0.00" font-family="Liberation Sans" font-size="17.6" fill="#262626" stroke="#262626" stroke-width="0.2">cpm</text>
<text x="-778.03" y="-9.30" font-family="Liberation Sans" font-size="13" fill="#262626" stroke="#262626" stroke-width="0.2">-1</text>
<text x="-766.39" y="0.00" font-family="Liberation Sans" font-size="17.6" fill="#262626" stroke="#262626" stroke-width="0.2">]</text>
</g>
<g fill="none" stroke="#262626"><ellipse cx="29.75" cy="889.95" rx="3.3" ry="4.9" stroke-width="1.35"/><line x1="23.6" y1="889.95" x2="35.4" y2="889.95" stroke-width="1.5"/><line x1="24.0" y1="887.35" x2="24.0" y2="892.55" stroke-width="1.0"/><line x1="35.0" y1="887.35" x2="35.0" y2="892.55" stroke-width="1.0"/></g>
<rect x="522.5" y="606.1" width="170.2" height="115.6" fill="#fff" stroke="#6b6b6b" stroke-width="1"/>
<line x1="526.0" y1="617.5" x2="550.0" y2="617.5" stroke="#0072BD" stroke-width="3"/>
<line x1="526.0" y1="638.0" x2="550.0" y2="638.0" stroke="#F9530E" stroke-width="3"/>
<path d="M538.0,649.6 L548.5,667.1 L527.5,667.1 Z" fill="#0072BD"/>
<path d="M538.0,676.1 L548.5,693.6 L527.5,693.6 Z" fill="#F9530E"/>
<line x1="526.0" y1="710.9" x2="550.0" y2="710.9" stroke="#000" stroke-width="1.3"/>
<text x="552.51" y="623.55" font-family="Liberation Sans" font-size="15.2" fill="#1a1a1a" stroke="#1a1a1a" stroke-width="0.2">Shear1</text>
<text x="606.95" y="623.55" font-family="Liberation Sans" font-size="15.2" fill="#1a1a1a" stroke="#1a1a1a" stroke-width="0.2">clean</text>
<text x="552.51" y="643.95" font-family="Liberation Sans" font-size="15.2" fill="#1a1a1a" stroke="#1a1a1a" stroke-width="0.2">Shear2</text>
<text x="606.95" y="643.95" font-family="Liberation Sans" font-size="15.2" fill="#1a1a1a" stroke="#1a1a1a" stroke-width="0.2">clean</text>
<text x="552.95" y="662.85" font-family="Liberation Sans" font-size="15.2" font-style="italic" fill="#1a1a1a" stroke="#1a1a1a" stroke-width="0.2">k</text>
<text x="560.00" y="671.15" font-family="Liberation Sans" font-size="12" font-style="italic" fill="#1a1a1a" stroke="#1a1a1a" stroke-width="0.2">max</text>
<text x="586.31" y="662.85" font-family="Liberation Sans" font-size="15.2" fill="#1a1a1a" stroke="#1a1a1a" stroke-width="0.2">Shear1=34cpm</text>
<text x="552.95" y="689.45" font-family="Liberation Sans" font-size="15.2" font-style="italic" fill="#1a1a1a" stroke="#1a1a1a" stroke-width="0.2">k</text>
<text x="560.00" y="697.75" font-family="Liberation Sans" font-size="12" font-style="italic" fill="#1a1a1a" stroke="#1a1a1a" stroke-width="0.2">max</text>
<text x="586.31" y="689.45" font-family="Liberation Sans" font-size="15.2" fill="#1a1a1a" stroke="#1a1a1a" stroke-width="0.2">Shear2=36cpm</text>
<text x="551.95" y="716.45" font-family="Liberation Sans" font-size="15.2" fill="#1a1a1a" stroke="#1a1a1a" stroke-width="0.2">Nasmyth</text>
<text x="618.48" y="716.45" font-family="Liberation Sans" font-size="15.2" fill="#1a1a1a" stroke="#1a1a1a" stroke-width="0.2">spectrum</text>
<text x="110.15" y="632.65" font-family="Liberation Sans" font-size="17.0" fill="#1a1a1a" stroke="#1a1a1a" stroke-width="0.2">(b)</text>
<text x="207.95" y="668.45" font-family="Liberation Serif" font-size="15" font-style="italic" fill="#1a1a1a" stroke="#1a1a1a" stroke-width="0.2">ϵ</text>
<text x="215.18" y="668.45" font-family="Liberation Sans" font-size="16" fill="#1a1a1a" stroke="#1a1a1a" stroke-width="0.2">1</text>
<text x="229.22" y="668.45" font-family="Liberation Sans" font-size="16" fill="#1a1a1a" stroke="#1a1a1a" stroke-width="0.2">=</text>
<text x="243.88" y="668.45" font-family="Liberation Sans" font-size="16" fill="#1a1a1a" stroke="#1a1a1a" stroke-width="0.2">0.9</text>
<path d="M275.4,661.1 L283.0,668.3 M275.4,668.3 L283.0,661.1" stroke="#1a1a1a" stroke-width="1.1" fill="none"/>
<text x="291.68" y="668.45" font-family="Liberation Sans" font-size="16" fill="#1a1a1a" stroke="#1a1a1a" stroke-width="0.2">10</text>
<text x="310.67" y="660.85" font-family="Liberation Sans" font-size="12" fill="#1a1a1a" stroke="#1a1a1a" stroke-width="0.2">-10</text>
<text x="335.23" y="668.45" font-family="Liberation Sans" font-size="16" fill="#1a1a1a" stroke="#1a1a1a" stroke-width="0.2">W</text>
<text x="355.02" y="668.45" font-family="Liberation Sans" font-size="16" fill="#1a1a1a" stroke="#1a1a1a" stroke-width="0.2">kg</text>
<text x="373.07" y="661.45" font-family="Liberation Sans" font-size="12" fill="#1a1a1a" stroke="#1a1a1a" stroke-width="0.2">-1</text>
<text x="207.95" y="694.45" font-family="Liberation Serif" font-size="15" font-style="italic" fill="#1a1a1a" stroke="#1a1a1a" stroke-width="0.2">ϵ</text>
<text x="215.60" y="694.45" font-family="Liberation Sans" font-size="16" fill="#1a1a1a" stroke="#1a1a1a" stroke-width="0.2">2</text>
<text x="229.22" y="694.45" font-family="Liberation Sans" font-size="16" fill="#1a1a1a" stroke="#1a1a1a" stroke-width="0.2">=</text>
<text x="243.88" y="694.45" font-family="Liberation Sans" font-size="16" fill="#1a1a1a" stroke="#1a1a1a" stroke-width="0.2">0.8</text>
<path d="M275.4,687.1 L283.0,694.3 M275.4,694.3 L283.0,687.1" stroke="#1a1a1a" stroke-width="1.1" fill="none"/>
<text x="291.68" y="694.45" font-family="Liberation Sans" font-size="16" fill="#1a1a1a" stroke="#1a1a1a" stroke-width="0.2">10</text>
<text x="310.67" y="686.85" font-family="Liberation Sans" font-size="12" fill="#1a1a1a" stroke="#1a1a1a" stroke-width="0.2">-10</text>
<text x="335.23" y="694.45" font-family="Liberation Sans" font-size="16" fill="#1a1a1a" stroke="#1a1a1a" stroke-width="0.2">W</text>
<text x="355.02" y="694.45" font-family="Liberation Sans" font-size="16" fill="#1a1a1a" stroke="#1a1a1a" stroke-width="0.2">kg</text>
<text x="373.07" y="687.45" font-family="Liberation Sans" font-size="12" fill="#1a1a1a" stroke="#1a1a1a" stroke-width="0.2">-1</text>
</svg>
</body></html>
